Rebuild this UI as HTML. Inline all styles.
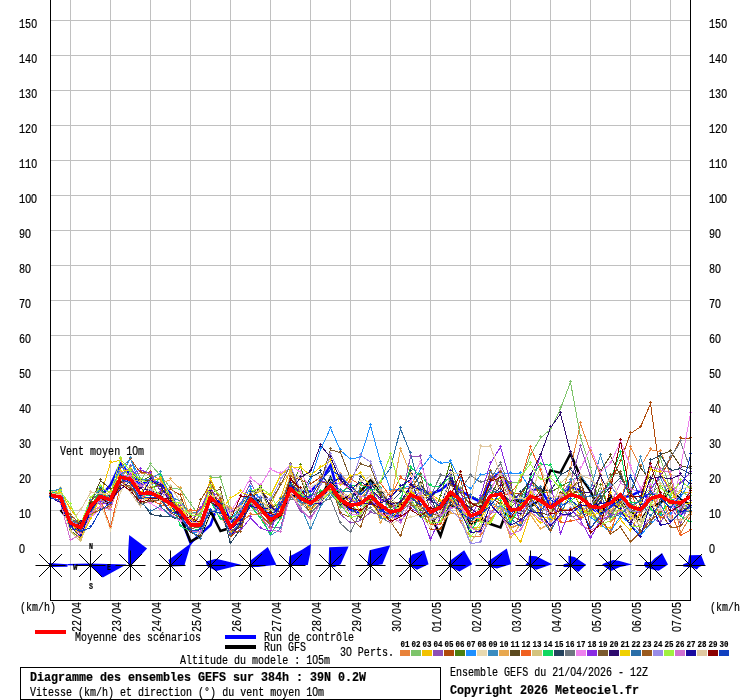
<!DOCTYPE html><html><head><meta charset="utf-8"><style>html,body{margin:0;padding:0;background:#fff;overflow:hidden}svg{display:block}text{font-family:"Liberation Mono","DejaVu Sans Mono",monospace;stroke:#000;stroke-width:0.2px}.s{font-size:12px} .b{font-size:12.5px;font-weight:bold} .t{font-size:9px;font-weight:bold} .z{font-family:"Liberation Sans",sans-serif;font-size:12.5px}</style></head><body>
<svg width="740" height="700" viewBox="0 0 740 700">
<rect width="740" height="700" fill="#fff"/>
<path d="M50,20.5H690M50,55.5H690M50,90.5H690M50,125.5H690M50,160.5H690M50,195.5H690M50,230.5H690M50,265.5H690M50,300.5H690M50,335.5H690M50,370.5H690M50,405.5H690M50,440.5H690M50,475.5H690M50,510.5H690M50,545.5H690M70.5,0V600M110.5,0V600M150.5,0V600M190.5,0V600M230.5,0V600M270.5,0V600M310.5,0V600M350.5,0V600M390.5,0V600M430.5,0V600M470.5,0V600M510.5,0V600M550.5,0V600M590.5,0V600M630.5,0V600M670.5,0V600" stroke="#c0c0c0" stroke-width="1" fill="none" shape-rendering="crispEdges"/>
<text x="19" y="553.0" class="s" textLength="6" lengthAdjust="spacingAndGlyphs"><tspan class="z">0</tspan></text>
<text x="709" y="553.0" class="s" textLength="6" lengthAdjust="spacingAndGlyphs"><tspan class="z">0</tspan></text>
<text x="19" y="518.0" class="s" textLength="12" lengthAdjust="spacingAndGlyphs">1<tspan class="z">0</tspan></text>
<text x="709" y="518.0" class="s" textLength="12" lengthAdjust="spacingAndGlyphs">1<tspan class="z">0</tspan></text>
<text x="19" y="483.0" class="s" textLength="12" lengthAdjust="spacingAndGlyphs">2<tspan class="z">0</tspan></text>
<text x="709" y="483.0" class="s" textLength="12" lengthAdjust="spacingAndGlyphs">2<tspan class="z">0</tspan></text>
<text x="19" y="448.0" class="s" textLength="12" lengthAdjust="spacingAndGlyphs">3<tspan class="z">0</tspan></text>
<text x="709" y="448.0" class="s" textLength="12" lengthAdjust="spacingAndGlyphs">3<tspan class="z">0</tspan></text>
<text x="19" y="413.0" class="s" textLength="12" lengthAdjust="spacingAndGlyphs">4<tspan class="z">0</tspan></text>
<text x="709" y="413.0" class="s" textLength="12" lengthAdjust="spacingAndGlyphs">4<tspan class="z">0</tspan></text>
<text x="19" y="378.0" class="s" textLength="12" lengthAdjust="spacingAndGlyphs">5<tspan class="z">0</tspan></text>
<text x="709" y="378.0" class="s" textLength="12" lengthAdjust="spacingAndGlyphs">5<tspan class="z">0</tspan></text>
<text x="19" y="343.0" class="s" textLength="12" lengthAdjust="spacingAndGlyphs">6<tspan class="z">0</tspan></text>
<text x="709" y="343.0" class="s" textLength="12" lengthAdjust="spacingAndGlyphs">6<tspan class="z">0</tspan></text>
<text x="19" y="308.0" class="s" textLength="12" lengthAdjust="spacingAndGlyphs">7<tspan class="z">0</tspan></text>
<text x="709" y="308.0" class="s" textLength="12" lengthAdjust="spacingAndGlyphs">7<tspan class="z">0</tspan></text>
<text x="19" y="273.0" class="s" textLength="12" lengthAdjust="spacingAndGlyphs">8<tspan class="z">0</tspan></text>
<text x="709" y="273.0" class="s" textLength="12" lengthAdjust="spacingAndGlyphs">8<tspan class="z">0</tspan></text>
<text x="19" y="238.0" class="s" textLength="12" lengthAdjust="spacingAndGlyphs">9<tspan class="z">0</tspan></text>
<text x="709" y="238.0" class="s" textLength="12" lengthAdjust="spacingAndGlyphs">9<tspan class="z">0</tspan></text>
<text x="19" y="203.0" class="s" textLength="18" lengthAdjust="spacingAndGlyphs">1<tspan class="z">0</tspan><tspan class="z">0</tspan></text>
<text x="709" y="203.0" class="s" textLength="18" lengthAdjust="spacingAndGlyphs">1<tspan class="z">0</tspan><tspan class="z">0</tspan></text>
<text x="19" y="168.0" class="s" textLength="18" lengthAdjust="spacingAndGlyphs">11<tspan class="z">0</tspan></text>
<text x="709" y="168.0" class="s" textLength="18" lengthAdjust="spacingAndGlyphs">11<tspan class="z">0</tspan></text>
<text x="19" y="133.0" class="s" textLength="18" lengthAdjust="spacingAndGlyphs">12<tspan class="z">0</tspan></text>
<text x="709" y="133.0" class="s" textLength="18" lengthAdjust="spacingAndGlyphs">12<tspan class="z">0</tspan></text>
<text x="19" y="98.0" class="s" textLength="18" lengthAdjust="spacingAndGlyphs">13<tspan class="z">0</tspan></text>
<text x="709" y="98.0" class="s" textLength="18" lengthAdjust="spacingAndGlyphs">13<tspan class="z">0</tspan></text>
<text x="19" y="63.0" class="s" textLength="18" lengthAdjust="spacingAndGlyphs">14<tspan class="z">0</tspan></text>
<text x="709" y="63.0" class="s" textLength="18" lengthAdjust="spacingAndGlyphs">14<tspan class="z">0</tspan></text>
<text x="19" y="28.0" class="s" textLength="18" lengthAdjust="spacingAndGlyphs">15<tspan class="z">0</tspan></text>
<text x="709" y="28.0" class="s" textLength="18" lengthAdjust="spacingAndGlyphs">15<tspan class="z">0</tspan></text>
<text x="60" y="455" class="s" textLength="84" lengthAdjust="spacingAndGlyphs">Vent moyen 1<tspan class="z">0</tspan>m</text>
<polyline points="50.5,495.6 60.5,495.5 70.5,524.1 80.5,530.5 90.5,508.3 100.5,496.4 110.5,485.1 120.5,463.8 130.5,475.0 140.5,484.4 150.5,480.2 160.5,483.8 170.5,492.9 180.5,517.0 190.5,542.9 200.5,534.1 210.5,525.0 220.5,497.4 230.5,521.8 240.5,515.2 250.5,499.5 260.5,505.2 270.5,517.5 280.5,505.1 290.5,484.8 300.5,492.3 310.5,491.3 320.5,481.4 330.5,465.4 340.5,501.0 350.5,509.4 360.5,513.0 370.5,500.2 380.5,507.7 390.5,516.2 400.5,515.6 410.5,485.5 420.5,489.0 430.5,493.9 440.5,490.1 450.5,482.0 460.5,490.8 470.5,496.9 480.5,501.9 490.5,480.6 500.5,471.3 510.5,492.6 520.5,502.2 530.5,490.7 540.5,488.6 550.5,505.6 560.5,496.8 570.5,486.6 580.5,490.8 590.5,507.8 600.5,513.4 610.5,507.1 620.5,497.2 630.5,496.0 640.5,490.9 650.5,501.3 660.5,495.5 670.5,501.9 680.5,514.6 690.5,505.2" stroke="#0000ff" stroke-width="2.5" fill="none"/>
<polyline points="60.5,510.0 70.5,521.9 80.5,529.4 90.5,504.4 100.5,500.4 110.5,503.9 120.5,480.1 130.5,481.4 140.5,494.3 150.5,501.9 160.5,498.6 170.5,504.1 180.5,517.0 190.5,541.5 200.5,536.2 210.5,511.1 220.5,531.0 230.5,527.8 240.5,517.5 250.5,494.7 260.5,503.1 270.5,523.2 280.5,515.1 290.5,495.9 300.5,496.4 310.5,499.5 320.5,499.5 330.5,477.9 340.5,499.7 350.5,495.9 360.5,491.4 370.5,480.3 380.5,490.5 390.5,506.1 400.5,506.0 410.5,497.0 420.5,498.8 430.5,514.9 440.5,535.9 450.5,505.2 460.5,508.7 470.5,525.4 480.5,517.4 490.5,524.0 500.5,527.5 510.5,501.3 520.5,500.7 530.5,506.5 540.5,499.5 550.5,470.4 560.5,472.9 570.5,453.6 580.5,476.8 590.5,491.1 600.5,513.5 610.5,496.3 620.5,501.3 630.5,510.2 640.5,520.8 650.5,506.8 660.5,503.2 670.5,488.9 680.5,499.6 690.5,504.8" stroke="#000" stroke-width="2.5" fill="none"/>
<g fill="none" stroke-width="1" shape-rendering="crispEdges" stroke-linejoin="miter">
<polyline points="50.5,492.8 60.5,493.3 70.5,526.5 80.5,531.4 90.5,514.5 100.5,499.0 110.5,507.7 120.5,476.5 130.5,474.6 140.5,472.9 150.5,474.7 160.5,479.7 170.5,495.2 180.5,511.5 190.5,511.4 200.5,515.2 210.5,485.7 220.5,496.9 230.5,513.3 240.5,522.7 250.5,514.5 260.5,513.9 270.5,501.5 280.5,519.3 290.5,497.2 300.5,501.6 310.5,509.3 320.5,501.1 330.5,491.7 340.5,494.9 350.5,502.1 360.5,499.6 370.5,504.1 380.5,504.6 390.5,491.3 400.5,490.0 410.5,487.2 420.5,507.1 430.5,513.1 440.5,502.9 450.5,492.9 460.5,521.9 470.5,537.1 480.5,536.0 490.5,519.6 500.5,506.6 510.5,528.6 520.5,523.4 530.5,490.8 540.5,507.5 550.5,513.1 560.5,497.5 570.5,468.0 580.5,423.9 590.5,451.9 600.5,475.0 610.5,522.2 620.5,511.4 630.5,447.0 640.5,466.6 650.5,449.8 660.5,451.6 670.5,475.0 680.5,533.3 690.5,515.9" stroke="#e8823a"/>
<polyline points="50.5,496.2 60.5,490.6 70.5,519.8 80.5,533.6 90.5,508.7 100.5,496.7 110.5,494.8 120.5,476.9 130.5,467.3 140.5,481.3 150.5,464.4 160.5,475.5 170.5,487.8 180.5,489.4 190.5,503.9 200.5,517.0 210.5,477.8 220.5,477.8 230.5,510.0 240.5,514.8 250.5,494.2 260.5,511.6 270.5,519.3 280.5,499.0 290.5,468.0 300.5,491.8 310.5,510.2 320.5,493.6 330.5,489.4 340.5,508.0 350.5,504.8 360.5,512.8 370.5,494.6 380.5,491.7 390.5,503.4 400.5,513.6 410.5,498.8 420.5,484.0 430.5,500.3 440.5,484.3 450.5,477.3 460.5,488.9 470.5,506.5 480.5,504.4 490.5,486.9 500.5,476.6 510.5,482.9 520.5,482.0 530.5,455.1 540.5,437.9 550.5,429.5 560.5,408.5 570.5,382.2 580.5,436.9 590.5,468.0 600.5,508.3 610.5,518.4 620.5,499.8 630.5,509.3 640.5,498.2 650.5,488.3 660.5,458.4 670.5,490.4 680.5,491.6 690.5,496.5" stroke="#7dc46a"/>
<polyline points="50.5,492.2 60.5,490.4 70.5,509.2 80.5,522.6 90.5,507.8 100.5,496.0 110.5,462.8 120.5,459.9 130.5,482.0 140.5,496.8 150.5,499.5 160.5,493.8 170.5,508.5 180.5,517.3 190.5,525.7 200.5,514.6 210.5,479.1 220.5,500.5 230.5,532.5 240.5,527.3 250.5,502.7 260.5,509.3 270.5,509.1 280.5,498.5 290.5,468.5 300.5,496.1 310.5,510.2 320.5,499.4 330.5,484.1 340.5,505.0 350.5,495.7 360.5,512.2 370.5,501.9 380.5,515.9 390.5,515.3 400.5,506.9 410.5,496.4 420.5,496.2 430.5,494.8 440.5,505.5 450.5,498.2 460.5,512.3 470.5,526.9 480.5,527.9 490.5,522.2 500.5,503.9 510.5,527.9 520.5,542.3 530.5,512.0 540.5,523.4 550.5,516.8 560.5,494.3 570.5,503.0 580.5,515.5 590.5,506.7 600.5,526.4 610.5,528.2 620.5,519.7 630.5,530.9 640.5,511.6 650.5,501.6 660.5,518.8 670.5,499.2 680.5,491.8 690.5,493.1" stroke="#f2c200"/>
<polyline points="50.5,494.1 60.5,496.7 70.5,528.9 80.5,532.2 90.5,507.4 100.5,498.8 110.5,503.0 120.5,475.0 130.5,466.9 140.5,485.5 150.5,493.2 160.5,492.9 170.5,497.8 180.5,506.9 190.5,524.0 200.5,523.8 210.5,492.1 220.5,496.3 230.5,512.7 240.5,504.4 250.5,482.7 260.5,500.2 270.5,527.2 280.5,528.1 290.5,491.4 300.5,511.5 310.5,517.3 320.5,503.8 330.5,482.5 340.5,514.3 350.5,523.0 360.5,520.7 370.5,512.3 380.5,515.0 390.5,511.5 400.5,502.4 410.5,456.7 420.5,456.7 430.5,503.1 440.5,516.5 450.5,500.2 460.5,507.6 470.5,508.8 480.5,499.5 490.5,477.5 500.5,482.8 510.5,497.1 520.5,495.7 530.5,491.0 540.5,489.5 550.5,516.8 560.5,495.1 570.5,482.1 580.5,446.6 590.5,476.8 600.5,511.6 610.5,512.5 620.5,503.0 630.5,520.0 640.5,532.2 650.5,516.6 660.5,522.9 670.5,505.6 680.5,523.1 690.5,501.9" stroke="#8e4fb5"/>
<polyline points="50.5,493.5 60.5,495.2 70.5,524.5 80.5,533.1 90.5,501.0 100.5,492.3 110.5,498.7 120.5,468.1 130.5,459.2 140.5,472.8 150.5,472.2 160.5,490.9 170.5,489.0 180.5,495.2 190.5,523.8 200.5,528.7 210.5,495.3 220.5,512.4 230.5,536.7 240.5,528.8 250.5,502.4 260.5,515.6 270.5,525.6 280.5,512.8 290.5,476.6 300.5,479.8 310.5,484.1 320.5,477.4 330.5,490.5 340.5,503.2 350.5,497.2 360.5,489.7 370.5,492.2 380.5,495.3 390.5,506.5 400.5,504.8 410.5,494.7 420.5,506.4 430.5,529.7 440.5,529.4 450.5,509.2 460.5,478.7 470.5,522.3 480.5,510.9 490.5,480.9 500.5,472.2 510.5,493.6 520.5,494.0 530.5,480.5 540.5,495.6 550.5,508.2 560.5,500.4 570.5,492.6 580.5,491.9 590.5,511.3 600.5,492.9 610.5,482.0 620.5,461.0 630.5,433.4 640.5,427.0 650.5,403.6 660.5,476.8 670.5,458.6 680.5,438.9 690.5,438.9" stroke="#b04a0a"/>
<polyline points="50.5,495.5 60.5,495.1 70.5,530.9 80.5,537.6 90.5,503.5 100.5,496.5 110.5,496.0 120.5,480.7 130.5,471.6 140.5,481.9 150.5,476.2 160.5,490.6 170.5,495.3 180.5,513.1 190.5,522.9 200.5,536.2 210.5,500.7 220.5,504.4 230.5,528.3 240.5,505.3 250.5,493.0 260.5,487.9 270.5,512.0 280.5,515.2 290.5,490.5 300.5,465.5 310.5,500.0 320.5,496.4 330.5,488.4 340.5,494.6 350.5,514.7 360.5,490.0 370.5,504.7 380.5,494.5 390.5,508.5 400.5,516.2 410.5,491.3 420.5,511.6 430.5,520.1 440.5,496.0 450.5,461.4 460.5,503.0 470.5,532.0 480.5,503.9 490.5,496.2 500.5,475.4 510.5,507.5 520.5,497.3 530.5,478.8 540.5,493.2 550.5,492.2 560.5,486.7 570.5,481.0 580.5,509.3 590.5,511.6 600.5,485.5 610.5,514.2 620.5,503.3 630.5,512.5 640.5,512.3 650.5,495.3 660.5,484.2 670.5,504.5 680.5,506.6 690.5,511.1" stroke="#4c7f10"/>
<polyline points="50.5,498.4 60.5,493.8 70.5,518.6 80.5,523.3 90.5,506.4 100.5,491.3 110.5,506.8 120.5,475.2 130.5,458.6 140.5,486.8 150.5,482.0 160.5,498.2 170.5,511.2 180.5,516.1 190.5,532.7 200.5,533.0 210.5,501.5 220.5,510.7 230.5,520.1 240.5,505.1 250.5,488.0 260.5,499.4 270.5,520.1 280.5,515.2 290.5,488.9 300.5,503.0 310.5,479.9 320.5,449.8 330.5,428.1 340.5,450.5 350.5,459.2 360.5,457.1 370.5,425.6 380.5,462.1 390.5,490.1 400.5,489.0 410.5,485.5 420.5,469.4 430.5,456.4 440.5,463.4 450.5,461.7 460.5,479.9 470.5,489.0 480.5,475.0 490.5,472.9 500.5,473.9 510.5,473.9 520.5,473.6 530.5,489.0 540.5,505.0 550.5,507.1 560.5,504.9 570.5,503.1 580.5,512.6 590.5,517.2 600.5,524.4 610.5,531.9 620.5,515.7 630.5,524.0 640.5,535.4 650.5,523.8 660.5,515.1 670.5,514.7 680.5,497.1 690.5,481.2" stroke="#1e90ff"/>
<polyline points="50.5,492.9 60.5,488.8 70.5,516.9 80.5,528.9 90.5,507.0 100.5,503.0 110.5,530.0 120.5,492.5 130.5,473.2 140.5,498.2 150.5,500.6 160.5,498.6 170.5,506.8 180.5,514.8 190.5,522.9 200.5,535.7 210.5,510.9 220.5,515.6 230.5,535.9 240.5,524.1 250.5,501.6 260.5,504.9 270.5,508.4 280.5,501.9 290.5,475.1 300.5,489.4 310.5,487.4 320.5,480.9 330.5,482.4 340.5,504.4 350.5,513.1 360.5,510.0 370.5,492.5 380.5,499.1 390.5,524.5 400.5,519.4 410.5,517.6 420.5,513.9 430.5,528.1 440.5,515.8 450.5,483.7 460.5,508.1 470.5,530.8 480.5,505.9 490.5,502.4 500.5,479.9 510.5,504.5 520.5,513.6 530.5,514.4 540.5,529.4 550.5,524.5 560.5,502.8 570.5,504.2 580.5,508.7 590.5,504.3 600.5,516.9 610.5,517.5 620.5,514.4 630.5,518.0 640.5,518.2 650.5,520.2 660.5,476.6 670.5,505.2 680.5,489.2 690.5,486.5" stroke="#e8d9b0"/>
<polyline points="50.5,491.1 60.5,489.3 70.5,519.7 80.5,526.1 90.5,500.9 100.5,488.1 110.5,492.2 120.5,467.9 130.5,458.8 140.5,479.2 150.5,479.2 160.5,472.9 170.5,496.8 180.5,501.2 190.5,514.3 200.5,509.9 210.5,488.4 220.5,509.8 230.5,535.9 240.5,523.6 250.5,504.9 260.5,514.2 270.5,535.6 280.5,528.8 290.5,495.9 300.5,506.1 310.5,529.2 320.5,506.5 330.5,493.7 340.5,504.6 350.5,517.0 360.5,484.8 370.5,486.9 380.5,518.0 390.5,518.2 400.5,510.8 410.5,498.1 420.5,517.6 430.5,512.1 440.5,505.9 450.5,478.1 460.5,499.4 470.5,521.7 480.5,514.4 490.5,503.0 500.5,507.7 510.5,525.2 520.5,498.5 530.5,485.5 540.5,487.7 550.5,520.5 560.5,504.4 570.5,481.0 580.5,475.2 590.5,489.0 600.5,455.1 610.5,485.5 620.5,499.5 630.5,492.5 640.5,457.5 650.5,489.0 660.5,478.3 670.5,498.6 680.5,502.2 690.5,508.6" stroke="#3a8cc0"/>
<polyline points="50.5,493.6 60.5,496.6 70.5,523.2 80.5,541.0 90.5,515.0 100.5,507.2 110.5,508.9 120.5,481.1 130.5,487.5 140.5,500.2 150.5,483.4 160.5,483.4 170.5,479.8 180.5,488.9 190.5,518.6 200.5,524.3 210.5,496.9 220.5,499.6 230.5,508.9 240.5,507.6 250.5,504.2 260.5,503.1 270.5,505.0 280.5,484.5 290.5,472.4 300.5,493.7 310.5,508.1 320.5,501.9 330.5,487.2 340.5,474.6 350.5,482.9 360.5,498.7 370.5,486.3 380.5,523.2 390.5,503.0 400.5,449.1 410.5,473.6 420.5,496.0 430.5,522.0 440.5,522.2 450.5,513.6 460.5,514.3 470.5,527.1 480.5,530.5 490.5,504.6 500.5,509.1 510.5,538.3 520.5,524.1 530.5,515.0 540.5,529.1 550.5,522.4 560.5,509.6 570.5,509.4 580.5,517.5 590.5,510.1 600.5,525.2 610.5,513.2 620.5,494.1 630.5,515.0 640.5,521.6 650.5,509.0 660.5,495.2 670.5,517.9 680.5,520.9 690.5,513.7" stroke="#e8a84f"/>
<polyline points="50.5,494.8 60.5,495.2 70.5,524.4 80.5,533.1 90.5,503.0 100.5,480.6 110.5,489.0 120.5,482.9 130.5,480.3 140.5,480.3 150.5,481.0 160.5,486.6 170.5,499.4 180.5,514.4 190.5,532.3 200.5,536.6 210.5,500.4 220.5,511.5 230.5,534.3 240.5,526.3 250.5,498.9 260.5,486.5 270.5,507.6 280.5,504.0 290.5,492.1 300.5,477.7 310.5,505.4 320.5,492.0 330.5,487.0 340.5,505.5 350.5,506.0 360.5,518.2 370.5,500.3 380.5,514.7 390.5,517.7 400.5,511.2 410.5,490.4 420.5,483.4 430.5,524.0 440.5,513.8 450.5,496.7 460.5,503.1 470.5,511.9 480.5,516.2 490.5,497.1 500.5,504.6 510.5,515.7 520.5,520.1 530.5,511.2 540.5,513.1 550.5,515.0 560.5,493.3 570.5,495.1 580.5,489.0 590.5,509.6 600.5,471.2 610.5,455.7 620.5,475.6 630.5,494.3 640.5,467.3 650.5,480.9 660.5,454.5 670.5,451.3 680.5,466.3 690.5,467.6" stroke="#5c4a1e"/>
<polyline points="50.5,495.8 60.5,493.8 70.5,522.3 80.5,533.2 90.5,505.3 100.5,499.5 110.5,527.1 120.5,485.5 130.5,477.1 140.5,495.4 150.5,499.1 160.5,505.0 170.5,505.0 180.5,510.1 190.5,510.8 200.5,509.8 210.5,492.5 220.5,501.5 230.5,530.0 240.5,518.4 250.5,504.8 260.5,518.2 270.5,528.8 280.5,509.7 290.5,495.5 300.5,499.8 310.5,501.9 320.5,499.5 330.5,486.5 340.5,499.0 350.5,478.4 360.5,485.3 370.5,485.6 380.5,483.1 390.5,496.5 400.5,477.5 410.5,483.1 420.5,498.8 430.5,524.8 440.5,524.7 450.5,501.7 460.5,503.1 470.5,521.2 480.5,521.2 490.5,514.7 500.5,496.5 510.5,493.1 520.5,481.2 530.5,447.6 540.5,470.1 550.5,504.4 560.5,522.7 570.5,521.5 580.5,518.4 590.5,514.1 600.5,520.5 610.5,532.0 620.5,502.5 630.5,491.1 640.5,516.3 650.5,488.3 660.5,518.5 670.5,511.9 680.5,535.6 690.5,530.0" stroke="#f06020"/>
<polyline points="50.5,496.5 60.5,501.4 70.5,531.0 80.5,541.5 90.5,517.0 100.5,497.2 110.5,496.0 120.5,480.6 130.5,479.8 140.5,481.5 150.5,488.5 160.5,501.1 170.5,504.7 180.5,510.6 190.5,513.0 200.5,513.1 210.5,492.2 220.5,510.3 230.5,527.5 240.5,521.0 250.5,504.7 260.5,500.4 270.5,509.4 280.5,511.9 290.5,474.3 300.5,478.2 310.5,498.7 320.5,476.6 330.5,483.7 340.5,491.6 350.5,497.3 360.5,504.8 370.5,504.1 380.5,491.3 390.5,503.1 400.5,511.3 410.5,502.7 420.5,508.9 430.5,518.7 440.5,515.7 450.5,498.8 460.5,514.6 470.5,543.0 480.5,527.0 490.5,498.1 500.5,511.9 510.5,529.6 520.5,516.3 530.5,490.5 540.5,503.1 550.5,512.5 560.5,483.7 570.5,474.0 580.5,498.4 590.5,516.5 600.5,518.3 610.5,510.9 620.5,512.0 630.5,515.3 640.5,521.9 650.5,506.3 660.5,484.8 670.5,487.2 680.5,502.2 690.5,512.2" stroke="#d4c37e"/>
<polyline points="50.5,491.9 60.5,493.1 70.5,520.4 80.5,530.0 90.5,509.4 100.5,487.5 110.5,503.2 120.5,481.5 130.5,472.9 140.5,495.4 150.5,496.0 160.5,475.0 170.5,499.5 180.5,526.3 190.5,531.1 200.5,528.9 210.5,501.1 220.5,519.1 230.5,518.8 240.5,511.1 250.5,505.5 260.5,518.5 270.5,534.2 280.5,518.5 290.5,484.4 300.5,496.6 310.5,495.9 320.5,491.8 330.5,485.5 340.5,492.9 350.5,485.9 360.5,484.5 370.5,490.1 380.5,488.7 390.5,517.1 400.5,499.8 410.5,467.3 420.5,475.7 430.5,485.9 440.5,486.6 450.5,476.8 460.5,502.0 470.5,531.7 480.5,515.6 490.5,491.5 500.5,501.5 510.5,522.6 520.5,506.6 530.5,478.3 540.5,464.5 550.5,465.2 560.5,485.7 570.5,501.0 580.5,493.5 590.5,508.4 600.5,502.8 610.5,479.7 620.5,452.7 630.5,503.1 640.5,502.0 650.5,509.5 660.5,514.9 670.5,496.5 680.5,516.2 690.5,522.3" stroke="#10d860"/>
<polyline points="50.5,494.4 60.5,497.3 70.5,525.7 80.5,532.1 90.5,511.6 100.5,489.1 110.5,496.9 120.5,476.1 130.5,475.8 140.5,499.5 150.5,514.2 160.5,516.3 170.5,516.3 180.5,520.5 190.5,517.1 200.5,524.3 210.5,495.6 220.5,505.7 230.5,543.4 240.5,528.9 250.5,500.5 260.5,499.0 270.5,524.3 280.5,505.3 290.5,490.0 300.5,496.3 310.5,477.4 320.5,471.9 330.5,488.8 340.5,505.3 350.5,502.3 360.5,477.1 370.5,483.9 380.5,494.0 390.5,502.6 400.5,492.8 410.5,471.6 420.5,485.0 430.5,496.2 440.5,522.1 450.5,503.9 460.5,510.6 470.5,522.0 480.5,510.4 490.5,486.5 500.5,492.7 510.5,501.3 520.5,492.9 530.5,480.0 540.5,489.3 550.5,491.1 560.5,474.9 570.5,469.3 580.5,481.5 590.5,509.4 600.5,497.8 610.5,487.0 620.5,477.8 630.5,492.3 640.5,503.9 650.5,460.3 660.5,455.0 670.5,470.7 680.5,468.6 690.5,474.1" stroke="#25435e"/>
<polyline points="50.5,495.3 60.5,495.7 70.5,520.0 80.5,525.0 90.5,516.0 100.5,492.9 110.5,498.4 120.5,481.7 130.5,488.5 140.5,506.1 150.5,499.7 160.5,500.9 170.5,504.3 180.5,501.6 190.5,528.8 200.5,514.4 210.5,493.7 220.5,508.6 230.5,530.2 240.5,512.0 250.5,502.9 260.5,500.7 270.5,525.4 280.5,514.6 290.5,498.8 300.5,502.0 310.5,512.9 320.5,503.1 330.5,498.5 340.5,523.4 350.5,532.6 360.5,511.0 370.5,508.3 380.5,517.2 390.5,522.8 400.5,512.1 410.5,503.3 420.5,515.5 430.5,496.0 440.5,475.4 450.5,476.8 460.5,489.0 470.5,475.4 480.5,482.4 490.5,478.9 500.5,463.1 510.5,489.0 520.5,512.4 530.5,508.3 540.5,516.7 550.5,490.9 560.5,507.2 570.5,516.9 580.5,514.8 590.5,510.2 600.5,523.3 610.5,516.1 620.5,498.8 630.5,507.2 640.5,512.5 650.5,501.5 660.5,472.2 670.5,457.6 680.5,441.9 690.5,469.0" stroke="#6e7780"/>
<polyline points="50.5,496.3 60.5,498.3 70.5,524.6 80.5,534.3 90.5,517.5 100.5,508.9 110.5,506.7 120.5,481.1 130.5,474.6 140.5,501.2 150.5,503.2 160.5,509.6 170.5,513.7 180.5,521.5 190.5,520.6 200.5,523.6 210.5,493.5 220.5,512.4 230.5,511.8 240.5,496.0 250.5,478.1 260.5,485.5 270.5,469.1 280.5,473.9 290.5,464.9 300.5,472.6 310.5,489.0 320.5,502.1 330.5,486.1 340.5,502.3 350.5,513.9 360.5,515.4 370.5,498.6 380.5,512.0 390.5,522.1 400.5,515.3 410.5,482.0 420.5,462.1 430.5,492.5 440.5,508.4 450.5,494.2 460.5,507.2 470.5,516.6 480.5,518.2 490.5,491.0 500.5,469.5 510.5,500.8 520.5,504.6 530.5,489.6 540.5,497.7 550.5,515.8 560.5,496.6 570.5,489.1 580.5,468.8 590.5,448.1 600.5,472.1 610.5,463.7 620.5,441.0 630.5,466.3 640.5,488.7 650.5,485.6 660.5,508.0 670.5,522.6 680.5,467.6 690.5,413.0" stroke="#ee82ee"/>
<polyline points="50.5,494.2 60.5,497.3 70.5,521.4 80.5,529.1 90.5,505.9 100.5,502.7 110.5,504.9 120.5,485.9 130.5,475.2 140.5,469.7 150.5,474.0 160.5,490.8 170.5,497.5 180.5,513.4 190.5,520.9 200.5,509.0 210.5,486.7 220.5,507.8 230.5,534.2 240.5,530.4 250.5,517.9 260.5,528.3 270.5,531.3 280.5,504.3 290.5,489.9 300.5,496.9 310.5,498.2 320.5,480.3 330.5,484.4 340.5,492.1 350.5,499.7 360.5,505.2 370.5,487.4 380.5,500.5 390.5,499.5 400.5,521.5 410.5,508.2 420.5,513.0 430.5,539.4 440.5,516.9 450.5,497.7 460.5,491.6 470.5,519.8 480.5,496.0 490.5,463.1 500.5,447.0 510.5,482.0 520.5,526.7 530.5,485.5 540.5,455.1 550.5,482.0 560.5,533.7 570.5,508.2 580.5,520.2 590.5,538.1 600.5,519.9 610.5,515.7 620.5,513.2 630.5,517.9 640.5,510.1 650.5,489.7 660.5,474.7 670.5,491.5 680.5,483.1 690.5,472.3" stroke="#8a2be2"/>
<polyline points="50.5,496.2 60.5,495.8 70.5,518.8 80.5,523.8 90.5,509.5 100.5,490.9 110.5,502.3 120.5,486.0 130.5,485.0 140.5,503.1 150.5,501.5 160.5,499.7 170.5,513.0 180.5,517.7 190.5,528.9 200.5,526.6 210.5,493.9 220.5,488.6 230.5,530.4 240.5,526.7 250.5,496.7 260.5,490.2 270.5,501.5 280.5,485.4 290.5,464.5 300.5,496.3 310.5,513.9 320.5,482.0 330.5,449.8 340.5,452.6 350.5,478.9 360.5,464.1 370.5,466.9 380.5,492.5 390.5,502.5 400.5,503.0 410.5,490.0 420.5,474.6 430.5,512.6 440.5,517.2 450.5,484.0 460.5,493.3 470.5,504.1 480.5,502.9 490.5,499.3 500.5,473.5 510.5,484.4 520.5,514.2 530.5,500.8 540.5,491.8 550.5,514.4 560.5,500.4 570.5,488.0 580.5,481.9 590.5,509.5 600.5,502.2 610.5,475.6 620.5,472.0 630.5,499.3 640.5,531.2 650.5,524.1 660.5,498.3 670.5,484.2 680.5,511.8 690.5,489.8" stroke="#7b5a2e"/>
<polyline points="50.5,495.0 60.5,495.8 70.5,526.8 80.5,523.0 90.5,505.2 100.5,497.6 110.5,499.7 120.5,489.6 130.5,480.6 140.5,488.7 150.5,490.3 160.5,494.0 170.5,505.8 180.5,517.9 190.5,532.0 200.5,529.5 210.5,491.6 220.5,505.0 230.5,535.8 240.5,524.1 250.5,500.6 260.5,488.5 270.5,506.2 280.5,515.4 290.5,490.8 300.5,477.4 310.5,471.5 320.5,445.2 330.5,457.1 340.5,480.2 350.5,490.1 360.5,481.5 370.5,488.1 380.5,498.7 390.5,504.4 400.5,502.6 410.5,485.5 420.5,490.3 430.5,500.3 440.5,506.5 450.5,479.4 460.5,500.7 470.5,508.4 480.5,515.4 490.5,498.8 500.5,486.9 510.5,508.0 520.5,514.4 530.5,475.0 540.5,455.1 550.5,427.8 560.5,413.8 570.5,452.2 580.5,492.5 590.5,492.4 600.5,476.3 610.5,496.1 620.5,510.2 630.5,524.0 640.5,505.9 650.5,478.5 660.5,477.1 670.5,479.1 680.5,474.7 690.5,484.6" stroke="#2e0a6e"/>
<polyline points="50.5,496.0 60.5,493.2 70.5,521.8 80.5,537.6 90.5,519.4 100.5,496.0 110.5,492.2 120.5,471.4 130.5,469.8 140.5,493.5 150.5,480.8 160.5,478.4 170.5,496.6 180.5,508.9 190.5,519.4 200.5,523.0 210.5,489.8 220.5,511.2 230.5,498.1 240.5,491.8 250.5,496.0 260.5,491.4 270.5,495.6 280.5,475.4 290.5,466.9 300.5,467.3 310.5,475.0 320.5,467.3 330.5,460.6 340.5,485.5 350.5,476.1 360.5,473.2 370.5,485.9 380.5,514.4 390.5,521.0 400.5,507.1 410.5,491.1 420.5,501.0 430.5,493.4 440.5,501.1 450.5,492.5 460.5,510.1 470.5,516.7 480.5,519.4 490.5,499.6 500.5,498.8 510.5,520.0 520.5,504.5 530.5,493.8 540.5,517.4 550.5,517.8 560.5,519.9 570.5,486.2 580.5,505.9 590.5,515.8 600.5,512.5 610.5,493.7 620.5,510.5 630.5,519.4 640.5,503.9 650.5,469.3 660.5,472.1 670.5,490.7 680.5,503.5 690.5,503.3" stroke="#f0d000"/>
<polyline points="50.5,492.5 60.5,499.2 70.5,518.4 80.5,530.0 90.5,512.4 100.5,495.4 110.5,501.1 120.5,473.5 130.5,482.3 140.5,502.0 150.5,511.2 160.5,506.2 170.5,516.2 180.5,518.6 190.5,530.7 200.5,539.2 210.5,500.4 220.5,508.8 230.5,535.2 240.5,521.1 250.5,494.2 260.5,509.5 270.5,518.9 280.5,499.7 290.5,485.8 300.5,501.2 310.5,506.1 320.5,500.2 330.5,479.7 340.5,490.7 350.5,492.1 360.5,506.4 370.5,484.8 380.5,482.0 390.5,468.0 400.5,428.8 410.5,453.3 420.5,491.1 430.5,495.5 440.5,509.9 450.5,497.9 460.5,500.4 470.5,495.5 480.5,500.0 490.5,490.0 500.5,493.3 510.5,518.5 520.5,526.5 530.5,506.1 540.5,517.2 550.5,531.8 560.5,512.9 570.5,496.0 580.5,496.0 590.5,496.6 600.5,494.3 610.5,517.7 620.5,514.5 630.5,505.6 640.5,501.3 650.5,516.0 660.5,504.5 670.5,522.1 680.5,512.2 690.5,511.7" stroke="#2a6ea8"/>
<polyline points="50.5,496.7 60.5,500.6 70.5,515.5 80.5,523.4 90.5,513.8 100.5,510.2 110.5,505.6 120.5,481.3 130.5,489.1 140.5,494.8 150.5,488.4 160.5,484.7 170.5,497.8 180.5,514.9 190.5,531.0 200.5,500.6 210.5,483.1 220.5,499.5 230.5,530.5 240.5,532.1 250.5,496.0 260.5,514.4 270.5,524.7 280.5,506.0 290.5,477.5 300.5,499.1 310.5,503.7 320.5,482.5 330.5,483.4 340.5,513.3 350.5,517.3 360.5,527.5 370.5,497.6 380.5,509.1 390.5,521.7 400.5,536.1 410.5,505.0 420.5,506.3 430.5,517.3 440.5,504.2 450.5,498.0 460.5,506.5 470.5,507.8 480.5,501.8 490.5,471.1 500.5,489.6 510.5,515.2 520.5,520.6 530.5,502.0 540.5,511.0 550.5,531.1 560.5,501.9 570.5,489.0 580.5,478.4 590.5,528.3 600.5,516.5 610.5,534.1 620.5,527.2 630.5,542.1 640.5,532.2 650.5,520.3 660.5,512.3 670.5,527.4 680.5,526.8 690.5,512.5" stroke="#9a5a1e"/>
<polyline points="50.5,494.5 60.5,497.4 70.5,521.9 80.5,525.3 90.5,506.6 100.5,500.8 110.5,503.7 120.5,477.5 130.5,482.0 140.5,497.9 150.5,490.4 160.5,496.2 170.5,502.3 180.5,513.1 190.5,525.1 200.5,527.0 210.5,499.6 220.5,511.1 230.5,521.8 240.5,510.4 250.5,497.4 260.5,497.0 270.5,499.8 280.5,479.8 290.5,465.2 300.5,490.9 310.5,502.6 320.5,485.5 330.5,454.0 340.5,475.0 350.5,485.5 360.5,455.4 370.5,462.1 380.5,489.0 390.5,518.1 400.5,516.9 410.5,490.1 420.5,494.5 430.5,520.1 440.5,516.9 450.5,509.3 460.5,519.4 470.5,543.6 480.5,542.4 490.5,513.2 500.5,506.0 510.5,515.7 520.5,512.2 530.5,504.0 540.5,494.8 550.5,524.6 560.5,514.5 570.5,508.0 580.5,510.8 590.5,505.6 600.5,492.1 610.5,486.1 620.5,496.5 630.5,511.8 640.5,511.5 650.5,493.4 660.5,494.4 670.5,502.7 680.5,508.4 690.5,491.4" stroke="#9a8ce8"/>
<polyline points="50.5,494.2 60.5,491.5 70.5,504.9 80.5,524.7 90.5,498.3 100.5,486.7 110.5,493.0 120.5,458.9 130.5,471.0 140.5,479.6 150.5,483.1 160.5,497.1 170.5,500.6 180.5,503.6 190.5,515.8 200.5,515.9 210.5,487.0 220.5,495.2 230.5,526.5 240.5,518.5 250.5,491.4 260.5,487.9 270.5,494.7 280.5,512.4 290.5,489.0 300.5,493.5 310.5,500.9 320.5,501.7 330.5,492.5 340.5,503.2 350.5,517.6 360.5,514.9 370.5,496.0 380.5,482.0 390.5,454.7 400.5,488.3 410.5,497.6 420.5,515.5 430.5,523.3 440.5,522.2 450.5,498.4 460.5,505.2 470.5,537.4 480.5,522.6 490.5,523.1 500.5,505.1 510.5,505.2 520.5,476.3 530.5,463.9 540.5,479.8 550.5,477.5 560.5,488.3 570.5,499.9 580.5,511.9 590.5,513.3 600.5,524.8 610.5,520.7 620.5,507.4 630.5,526.1 640.5,527.1 650.5,505.1 660.5,487.6 670.5,495.2 680.5,481.0 690.5,488.4" stroke="#a0f040"/>
<polyline points="50.5,495.3 60.5,503.0 70.5,540.1 80.5,534.5 90.5,513.5 100.5,505.8 110.5,510.2 120.5,473.9 130.5,476.9 140.5,486.8 150.5,480.8 160.5,485.0 170.5,505.6 180.5,512.5 190.5,530.7 200.5,532.3 210.5,501.2 220.5,512.9 230.5,530.6 240.5,513.4 250.5,500.0 260.5,515.5 270.5,529.5 280.5,532.1 290.5,493.7 300.5,508.8 310.5,519.2 320.5,503.1 330.5,486.0 340.5,483.1 350.5,488.7 360.5,497.4 370.5,494.8 380.5,513.8 390.5,515.3 400.5,523.1 410.5,501.6 420.5,493.7 430.5,510.9 440.5,515.7 450.5,508.7 460.5,505.3 470.5,527.3 480.5,533.1 490.5,512.5 500.5,512.7 510.5,534.6 520.5,530.2 530.5,511.8 540.5,519.7 550.5,526.1 560.5,516.0 570.5,514.2 580.5,524.4 590.5,530.4 600.5,525.2 610.5,504.1 620.5,482.8 630.5,489.5 640.5,491.0 650.5,466.7 660.5,469.9 670.5,472.7 680.5,514.4 690.5,487.6" stroke="#d070d0"/>
<polyline points="50.5,497.1 60.5,502.8 70.5,526.7 80.5,536.6 90.5,511.1 100.5,497.4 110.5,497.3 120.5,477.7 130.5,481.2 140.5,496.0 150.5,479.9 160.5,485.5 170.5,502.8 180.5,515.6 190.5,522.9 200.5,520.7 210.5,501.9 220.5,510.1 230.5,529.2 240.5,522.0 250.5,506.2 260.5,508.7 270.5,508.0 280.5,512.1 290.5,483.4 300.5,500.6 310.5,501.9 320.5,504.5 330.5,483.8 340.5,477.4 350.5,488.8 360.5,502.4 370.5,504.5 380.5,503.4 390.5,497.7 400.5,486.3 410.5,479.8 420.5,505.3 430.5,497.4 440.5,486.2 450.5,471.5 460.5,511.3 470.5,532.9 480.5,531.1 490.5,504.7 500.5,515.3 510.5,525.2 520.5,520.2 530.5,511.6 540.5,513.2 550.5,526.0 560.5,514.3 570.5,514.1 580.5,505.7 590.5,505.8 600.5,503.6 610.5,501.8 620.5,510.0 630.5,525.5 640.5,537.1 650.5,502.6 660.5,525.4 670.5,522.8 680.5,512.4 690.5,506.2" stroke="#1a0aa0"/>
<polyline points="50.5,492.8 60.5,495.5 70.5,522.5 80.5,510.1 90.5,492.8 100.5,493.2 110.5,494.4 120.5,481.0 130.5,492.7 140.5,506.8 150.5,485.9 160.5,500.4 170.5,486.4 180.5,502.1 190.5,523.6 200.5,520.5 210.5,496.3 220.5,496.2 230.5,514.2 240.5,507.2 250.5,493.5 260.5,490.4 270.5,513.8 280.5,511.9 290.5,494.4 300.5,505.7 310.5,503.9 320.5,501.2 330.5,488.9 340.5,494.7 350.5,496.4 360.5,482.0 370.5,476.3 380.5,490.5 390.5,494.3 400.5,514.1 410.5,490.5 420.5,485.0 430.5,519.6 440.5,512.0 450.5,473.5 460.5,473.9 470.5,503.0 480.5,446.6 490.5,446.3 500.5,475.0 510.5,497.8 520.5,498.8 530.5,497.7 540.5,466.5 550.5,498.1 560.5,495.4 570.5,497.9 580.5,475.4 590.5,479.0 600.5,488.6 610.5,479.1 620.5,499.5 630.5,516.2 640.5,526.1 650.5,502.7 660.5,510.9 670.5,517.9 680.5,521.0 690.5,514.8" stroke="#e0c8a0"/>
<polyline points="50.5,494.9 60.5,498.0 70.5,524.0 80.5,524.8 90.5,504.2 100.5,497.9 110.5,503.9 120.5,483.7 130.5,490.8 140.5,502.5 150.5,499.0 160.5,497.9 170.5,499.3 180.5,518.5 190.5,517.7 200.5,522.5 210.5,502.4 220.5,507.0 230.5,519.3 240.5,496.8 250.5,495.7 260.5,509.8 270.5,513.6 280.5,516.6 290.5,479.2 300.5,488.7 310.5,503.3 320.5,495.7 330.5,485.6 340.5,502.7 350.5,508.2 360.5,510.7 370.5,503.0 380.5,508.7 390.5,522.0 400.5,516.9 410.5,509.6 420.5,516.1 430.5,508.7 440.5,509.6 450.5,496.0 460.5,472.9 470.5,503.0 480.5,507.9 490.5,480.9 500.5,478.1 510.5,518.0 520.5,503.0 530.5,497.4 540.5,495.8 550.5,514.7 560.5,510.6 570.5,510.9 580.5,503.9 590.5,532.9 600.5,524.4 610.5,489.0 620.5,440.7 630.5,496.0 640.5,497.2 650.5,464.6 660.5,493.5 670.5,511.3 680.5,505.5 690.5,491.8" stroke="#8b0000"/>
<polyline points="50.5,497.8 60.5,500.9 70.5,527.5 80.5,531.4 90.5,527.9 100.5,510.0 110.5,503.0 120.5,479.3 130.5,483.0 140.5,498.7 150.5,496.9 160.5,498.5 170.5,511.4 180.5,515.5 190.5,530.7 200.5,529.8 210.5,510.8 220.5,513.3 230.5,528.9 240.5,512.1 250.5,492.8 260.5,505.3 270.5,521.7 280.5,505.5 290.5,487.9 300.5,497.3 310.5,496.5 320.5,481.4 330.5,469.7 340.5,476.5 350.5,486.3 360.5,494.9 370.5,485.1 380.5,511.3 390.5,514.6 400.5,509.2 410.5,497.7 420.5,505.4 430.5,516.0 440.5,504.5 450.5,493.6 460.5,512.4 470.5,519.4 480.5,514.4 490.5,505.7 500.5,492.5 510.5,514.9 520.5,502.9 530.5,497.9 540.5,510.6 550.5,499.4 560.5,507.1 570.5,499.7 580.5,508.2 590.5,528.4 600.5,514.8 610.5,507.1 620.5,500.0 630.5,476.3 640.5,498.1 650.5,493.0 660.5,498.0 670.5,508.1 680.5,495.3 690.5,455.0" stroke="#1040c0"/>
</g>
<path d="M49,491h3v1h-3zM50,490h1v3h-1zM59,492h3v1h-3zM60,491h1v3h-1zM69,525h3v1h-3zM70,524h1v3h-1zM79,530h3v1h-3zM80,529h1v3h-1zM89,513h3v1h-3zM90,512h1v3h-1zM99,497h3v1h-3zM100,496h1v3h-1zM109,506h3v1h-3zM110,505h1v3h-1zM119,475h3v1h-3zM120,474h1v3h-1zM129,473h3v1h-3zM130,472h1v3h-1zM139,471h3v1h-3zM140,470h1v3h-1zM149,473h3v1h-3zM150,472h1v3h-1zM159,478h3v1h-3zM160,477h1v3h-1zM169,494h3v1h-3zM170,493h1v3h-1zM179,510h3v1h-3zM180,509h1v3h-1zM189,510h3v1h-3zM190,509h1v3h-1zM199,514h3v1h-3zM200,513h1v3h-1zM209,484h3v1h-3zM210,483h1v3h-1zM219,495h3v1h-3zM220,494h1v3h-1zM229,512h3v1h-3zM230,511h1v3h-1zM239,521h3v1h-3zM240,520h1v3h-1zM249,513h3v1h-3zM250,512h1v3h-1zM259,512h3v1h-3zM260,511h1v3h-1zM269,500h3v1h-3zM270,499h1v3h-1zM279,518h3v1h-3zM280,517h1v3h-1zM289,496h3v1h-3zM290,495h1v3h-1zM299,500h3v1h-3zM300,499h1v3h-1zM309,508h3v1h-3zM310,507h1v3h-1zM319,500h3v1h-3zM320,499h1v3h-1zM329,490h3v1h-3zM330,489h1v3h-1zM339,493h3v1h-3zM340,492h1v3h-1zM349,501h3v1h-3zM350,500h1v3h-1zM359,498h3v1h-3zM360,497h1v3h-1zM369,503h3v1h-3zM370,502h1v3h-1zM379,503h3v1h-3zM380,502h1v3h-1zM389,490h3v1h-3zM390,489h1v3h-1zM399,489h3v1h-3zM400,488h1v3h-1zM409,486h3v1h-3zM410,485h1v3h-1zM419,506h3v1h-3zM420,505h1v3h-1zM429,512h3v1h-3zM430,511h1v3h-1zM439,501h3v1h-3zM440,500h1v3h-1zM449,491h3v1h-3zM450,490h1v3h-1zM459,520h3v1h-3zM460,519h1v3h-1zM469,536h3v1h-3zM470,535h1v3h-1zM479,534h3v1h-3zM480,533h1v3h-1zM489,518h3v1h-3zM490,517h1v3h-1zM499,505h3v1h-3zM500,504h1v3h-1zM509,527h3v1h-3zM510,526h1v3h-1zM519,522h3v1h-3zM520,521h1v3h-1zM529,489h3v1h-3zM530,488h1v3h-1zM539,506h3v1h-3zM540,505h1v3h-1zM549,512h3v1h-3zM550,511h1v3h-1zM559,496h3v1h-3zM560,495h1v3h-1zM569,467h3v1h-3zM570,466h1v3h-1zM579,422h3v1h-3zM580,421h1v3h-1zM589,450h3v1h-3zM590,449h1v3h-1zM599,474h3v1h-3zM600,473h1v3h-1zM609,521h3v1h-3zM610,520h1v3h-1zM619,510h3v1h-3zM620,509h1v3h-1zM629,446h3v1h-3zM630,445h1v3h-1zM639,465h3v1h-3zM640,464h1v3h-1zM649,448h3v1h-3zM650,447h1v3h-1zM659,450h3v1h-3zM660,449h1v3h-1zM669,474h3v1h-3zM670,473h1v3h-1zM679,532h3v1h-3zM680,531h1v3h-1zM689,514h3v1h-3zM690,513h1v3h-1z" fill="#e8823a" shape-rendering="crispEdges"/><path d="M49,495h3v1h-3zM50,494h1v3h-1zM59,489h3v1h-3zM60,488h1v3h-1zM69,518h3v1h-3zM70,517h1v3h-1zM79,532h3v1h-3zM80,531h1v3h-1zM89,507h3v1h-3zM90,506h1v3h-1zM99,495h3v1h-3zM100,494h1v3h-1zM109,493h3v1h-3zM110,492h1v3h-1zM119,475h3v1h-3zM120,474h1v3h-1zM129,466h3v1h-3zM130,465h1v3h-1zM139,480h3v1h-3zM140,479h1v3h-1zM149,463h3v1h-3zM150,462h1v3h-1zM159,474h3v1h-3zM160,473h1v3h-1zM169,486h3v1h-3zM170,485h1v3h-1zM179,488h3v1h-3zM180,487h1v3h-1zM189,502h3v1h-3zM190,501h1v3h-1zM199,516h3v1h-3zM200,515h1v3h-1zM209,476h3v1h-3zM210,475h1v3h-1zM219,476h3v1h-3zM220,475h1v3h-1zM229,509h3v1h-3zM230,508h1v3h-1zM239,513h3v1h-3zM240,512h1v3h-1zM249,493h3v1h-3zM250,492h1v3h-1zM259,510h3v1h-3zM260,509h1v3h-1zM269,518h3v1h-3zM270,517h1v3h-1zM279,497h3v1h-3zM280,496h1v3h-1zM289,466h3v1h-3zM290,465h1v3h-1zM299,490h3v1h-3zM300,489h1v3h-1zM309,509h3v1h-3zM310,508h1v3h-1zM319,492h3v1h-3zM320,491h1v3h-1zM329,488h3v1h-3zM330,487h1v3h-1zM339,507h3v1h-3zM340,506h1v3h-1zM349,503h3v1h-3zM350,502h1v3h-1zM359,511h3v1h-3zM360,510h1v3h-1zM369,493h3v1h-3zM370,492h1v3h-1zM379,490h3v1h-3zM380,489h1v3h-1zM389,502h3v1h-3zM390,501h1v3h-1zM399,512h3v1h-3zM400,511h1v3h-1zM409,497h3v1h-3zM410,496h1v3h-1zM419,483h3v1h-3zM420,482h1v3h-1zM429,499h3v1h-3zM430,498h1v3h-1zM439,483h3v1h-3zM440,482h1v3h-1zM449,476h3v1h-3zM450,475h1v3h-1zM459,487h3v1h-3zM460,486h1v3h-1zM469,505h3v1h-3zM470,504h1v3h-1zM479,503h3v1h-3zM480,502h1v3h-1zM489,485h3v1h-3zM490,484h1v3h-1zM499,475h3v1h-3zM500,474h1v3h-1zM509,481h3v1h-3zM510,480h1v3h-1zM519,481h3v1h-3zM520,480h1v3h-1zM529,454h3v1h-3zM530,453h1v3h-1zM539,436h3v1h-3zM540,435h1v3h-1zM549,428h3v1h-3zM550,427h1v3h-1zM559,407h3v1h-3zM560,406h1v3h-1zM569,381h3v1h-3zM570,380h1v3h-1zM579,435h3v1h-3zM580,434h1v3h-1zM589,467h3v1h-3zM590,466h1v3h-1zM599,507h3v1h-3zM600,506h1v3h-1zM609,517h3v1h-3zM610,516h1v3h-1zM619,498h3v1h-3zM620,497h1v3h-1zM629,508h3v1h-3zM630,507h1v3h-1zM639,497h3v1h-3zM640,496h1v3h-1zM649,487h3v1h-3zM650,486h1v3h-1zM659,457h3v1h-3zM660,456h1v3h-1zM669,489h3v1h-3zM670,488h1v3h-1zM679,490h3v1h-3zM680,489h1v3h-1zM689,495h3v1h-3zM690,494h1v3h-1z" fill="#7dc46a" shape-rendering="crispEdges"/><path d="M49,491h3v1h-3zM50,490h1v3h-1zM59,489h3v1h-3zM60,488h1v3h-1zM69,508h3v1h-3zM70,507h1v3h-1zM79,521h3v1h-3zM80,520h1v3h-1zM89,506h3v1h-3zM90,505h1v3h-1zM99,495h3v1h-3zM100,494h1v3h-1zM109,461h3v1h-3zM110,460h1v3h-1zM119,458h3v1h-3zM120,457h1v3h-1zM129,481h3v1h-3zM130,480h1v3h-1zM139,495h3v1h-3zM140,494h1v3h-1zM149,498h3v1h-3zM150,497h1v3h-1zM159,492h3v1h-3zM160,491h1v3h-1zM169,507h3v1h-3zM170,506h1v3h-1zM179,516h3v1h-3zM180,515h1v3h-1zM189,524h3v1h-3zM190,523h1v3h-1zM199,513h3v1h-3zM200,512h1v3h-1zM209,478h3v1h-3zM210,477h1v3h-1zM219,499h3v1h-3zM220,498h1v3h-1zM229,531h3v1h-3zM230,530h1v3h-1zM239,526h3v1h-3zM240,525h1v3h-1zM249,501h3v1h-3zM250,500h1v3h-1zM259,508h3v1h-3zM260,507h1v3h-1zM269,508h3v1h-3zM270,507h1v3h-1zM279,497h3v1h-3zM280,496h1v3h-1zM289,467h3v1h-3zM290,466h1v3h-1zM299,495h3v1h-3zM300,494h1v3h-1zM309,509h3v1h-3zM310,508h1v3h-1zM319,498h3v1h-3zM320,497h1v3h-1zM329,483h3v1h-3zM330,482h1v3h-1zM339,504h3v1h-3zM340,503h1v3h-1zM349,494h3v1h-3zM350,493h1v3h-1zM359,511h3v1h-3zM360,510h1v3h-1zM369,500h3v1h-3zM370,499h1v3h-1zM379,514h3v1h-3zM380,513h1v3h-1zM389,514h3v1h-3zM390,513h1v3h-1zM399,505h3v1h-3zM400,504h1v3h-1zM409,495h3v1h-3zM410,494h1v3h-1zM419,495h3v1h-3zM420,494h1v3h-1zM429,493h3v1h-3zM430,492h1v3h-1zM439,504h3v1h-3zM440,503h1v3h-1zM449,497h3v1h-3zM450,496h1v3h-1zM459,511h3v1h-3zM460,510h1v3h-1zM469,525h3v1h-3zM470,524h1v3h-1zM479,526h3v1h-3zM480,525h1v3h-1zM489,521h3v1h-3zM490,520h1v3h-1zM499,502h3v1h-3zM500,501h1v3h-1zM509,526h3v1h-3zM510,525h1v3h-1zM519,541h3v1h-3zM520,540h1v3h-1zM529,510h3v1h-3zM530,509h1v3h-1zM539,522h3v1h-3zM540,521h1v3h-1zM549,515h3v1h-3zM550,514h1v3h-1zM559,493h3v1h-3zM560,492h1v3h-1zM569,502h3v1h-3zM570,501h1v3h-1zM579,514h3v1h-3zM580,513h1v3h-1zM589,505h3v1h-3zM590,504h1v3h-1zM599,525h3v1h-3zM600,524h1v3h-1zM609,527h3v1h-3zM610,526h1v3h-1zM619,518h3v1h-3zM620,517h1v3h-1zM629,529h3v1h-3zM630,528h1v3h-1zM639,510h3v1h-3zM640,509h1v3h-1zM649,500h3v1h-3zM650,499h1v3h-1zM659,517h3v1h-3zM660,516h1v3h-1zM669,498h3v1h-3zM670,497h1v3h-1zM679,490h3v1h-3zM680,489h1v3h-1zM689,492h3v1h-3zM690,491h1v3h-1z" fill="#f2c200" shape-rendering="crispEdges"/><path d="M49,493h3v1h-3zM50,492h1v3h-1zM59,495h3v1h-3zM60,494h1v3h-1zM69,527h3v1h-3zM70,526h1v3h-1zM79,531h3v1h-3zM80,530h1v3h-1zM89,506h3v1h-3zM90,505h1v3h-1zM99,497h3v1h-3zM100,496h1v3h-1zM109,502h3v1h-3zM110,501h1v3h-1zM119,474h3v1h-3zM120,473h1v3h-1zM129,465h3v1h-3zM130,464h1v3h-1zM139,484h3v1h-3zM140,483h1v3h-1zM149,492h3v1h-3zM150,491h1v3h-1zM159,491h3v1h-3zM160,490h1v3h-1zM169,496h3v1h-3zM170,495h1v3h-1zM179,505h3v1h-3zM180,504h1v3h-1zM189,523h3v1h-3zM190,522h1v3h-1zM199,522h3v1h-3zM200,521h1v3h-1zM209,491h3v1h-3zM210,490h1v3h-1zM219,495h3v1h-3zM220,494h1v3h-1zM229,511h3v1h-3zM230,510h1v3h-1zM239,503h3v1h-3zM240,502h1v3h-1zM249,481h3v1h-3zM250,480h1v3h-1zM259,499h3v1h-3zM260,498h1v3h-1zM269,526h3v1h-3zM270,525h1v3h-1zM279,527h3v1h-3zM280,526h1v3h-1zM289,490h3v1h-3zM290,489h1v3h-1zM299,510h3v1h-3zM300,509h1v3h-1zM309,516h3v1h-3zM310,515h1v3h-1zM319,502h3v1h-3zM320,501h1v3h-1zM329,481h3v1h-3zM330,480h1v3h-1zM339,513h3v1h-3zM340,512h1v3h-1zM349,522h3v1h-3zM350,521h1v3h-1zM359,519h3v1h-3zM360,518h1v3h-1zM369,511h3v1h-3zM370,510h1v3h-1zM379,514h3v1h-3zM380,513h1v3h-1zM389,510h3v1h-3zM390,509h1v3h-1zM399,501h3v1h-3zM400,500h1v3h-1zM409,455h3v1h-3zM410,454h1v3h-1zM419,455h3v1h-3zM420,454h1v3h-1zM429,502h3v1h-3zM430,501h1v3h-1zM439,515h3v1h-3zM440,514h1v3h-1zM449,499h3v1h-3zM450,498h1v3h-1zM459,506h3v1h-3zM460,505h1v3h-1zM469,507h3v1h-3zM470,506h1v3h-1zM479,498h3v1h-3zM480,497h1v3h-1zM489,476h3v1h-3zM490,475h1v3h-1zM499,481h3v1h-3zM500,480h1v3h-1zM509,496h3v1h-3zM510,495h1v3h-1zM519,494h3v1h-3zM520,493h1v3h-1zM529,489h3v1h-3zM530,488h1v3h-1zM539,488h3v1h-3zM540,487h1v3h-1zM549,515h3v1h-3zM550,514h1v3h-1zM559,494h3v1h-3zM560,493h1v3h-1zM569,481h3v1h-3zM570,480h1v3h-1zM579,445h3v1h-3zM580,444h1v3h-1zM589,475h3v1h-3zM590,474h1v3h-1zM599,510h3v1h-3zM600,509h1v3h-1zM609,511h3v1h-3zM610,510h1v3h-1zM619,501h3v1h-3zM620,500h1v3h-1zM629,519h3v1h-3zM630,518h1v3h-1zM639,531h3v1h-3zM640,530h1v3h-1zM649,515h3v1h-3zM650,514h1v3h-1zM659,521h3v1h-3zM660,520h1v3h-1zM669,504h3v1h-3zM670,503h1v3h-1zM679,522h3v1h-3zM680,521h1v3h-1zM689,500h3v1h-3zM690,499h1v3h-1z" fill="#8e4fb5" shape-rendering="crispEdges"/><path d="M49,492h3v1h-3zM50,491h1v3h-1zM59,494h3v1h-3zM60,493h1v3h-1zM69,523h3v1h-3zM70,522h1v3h-1zM79,532h3v1h-3zM80,531h1v3h-1zM89,500h3v1h-3zM90,499h1v3h-1zM99,491h3v1h-3zM100,490h1v3h-1zM109,497h3v1h-3zM110,496h1v3h-1zM119,467h3v1h-3zM120,466h1v3h-1zM129,458h3v1h-3zM130,457h1v3h-1zM139,471h3v1h-3zM140,470h1v3h-1zM149,471h3v1h-3zM150,470h1v3h-1zM159,489h3v1h-3zM160,488h1v3h-1zM169,487h3v1h-3zM170,486h1v3h-1zM179,494h3v1h-3zM180,493h1v3h-1zM189,522h3v1h-3zM190,521h1v3h-1zM199,527h3v1h-3zM200,526h1v3h-1zM209,494h3v1h-3zM210,493h1v3h-1zM219,511h3v1h-3zM220,510h1v3h-1zM229,535h3v1h-3zM230,534h1v3h-1zM239,527h3v1h-3zM240,526h1v3h-1zM249,501h3v1h-3zM250,500h1v3h-1zM259,514h3v1h-3zM260,513h1v3h-1zM269,524h3v1h-3zM270,523h1v3h-1zM279,511h3v1h-3zM280,510h1v3h-1zM289,475h3v1h-3zM290,474h1v3h-1zM299,478h3v1h-3zM300,477h1v3h-1zM309,483h3v1h-3zM310,482h1v3h-1zM319,476h3v1h-3zM320,475h1v3h-1zM329,489h3v1h-3zM330,488h1v3h-1zM339,502h3v1h-3zM340,501h1v3h-1zM349,496h3v1h-3zM350,495h1v3h-1zM359,488h3v1h-3zM360,487h1v3h-1zM369,491h3v1h-3zM370,490h1v3h-1zM379,494h3v1h-3zM380,493h1v3h-1zM389,505h3v1h-3zM390,504h1v3h-1zM399,503h3v1h-3zM400,502h1v3h-1zM409,493h3v1h-3zM410,492h1v3h-1zM419,505h3v1h-3zM420,504h1v3h-1zM429,528h3v1h-3zM430,527h1v3h-1zM439,528h3v1h-3zM440,527h1v3h-1zM449,508h3v1h-3zM450,507h1v3h-1zM459,477h3v1h-3zM460,476h1v3h-1zM469,521h3v1h-3zM470,520h1v3h-1zM479,509h3v1h-3zM480,508h1v3h-1zM489,479h3v1h-3zM490,478h1v3h-1zM499,471h3v1h-3zM500,470h1v3h-1zM509,492h3v1h-3zM510,491h1v3h-1zM519,493h3v1h-3zM520,492h1v3h-1zM529,479h3v1h-3zM530,478h1v3h-1zM539,494h3v1h-3zM540,493h1v3h-1zM549,507h3v1h-3zM550,506h1v3h-1zM559,499h3v1h-3zM560,498h1v3h-1zM569,491h3v1h-3zM570,490h1v3h-1zM579,490h3v1h-3zM580,489h1v3h-1zM589,510h3v1h-3zM590,509h1v3h-1zM599,491h3v1h-3zM600,490h1v3h-1zM609,481h3v1h-3zM610,480h1v3h-1zM619,460h3v1h-3zM620,459h1v3h-1zM629,432h3v1h-3zM630,431h1v3h-1zM639,426h3v1h-3zM640,425h1v3h-1zM649,402h3v1h-3zM650,401h1v3h-1zM659,475h3v1h-3zM660,474h1v3h-1zM669,457h3v1h-3zM670,456h1v3h-1zM679,437h3v1h-3zM680,436h1v3h-1zM689,437h3v1h-3zM690,436h1v3h-1z" fill="#b04a0a" shape-rendering="crispEdges"/><path d="M49,494h3v1h-3zM50,493h1v3h-1zM59,494h3v1h-3zM60,493h1v3h-1zM69,529h3v1h-3zM70,528h1v3h-1zM79,536h3v1h-3zM80,535h1v3h-1zM89,502h3v1h-3zM90,501h1v3h-1zM99,495h3v1h-3zM100,494h1v3h-1zM109,495h3v1h-3zM110,494h1v3h-1zM119,479h3v1h-3zM120,478h1v3h-1zM129,470h3v1h-3zM130,469h1v3h-1zM139,480h3v1h-3zM140,479h1v3h-1zM149,475h3v1h-3zM150,474h1v3h-1zM159,489h3v1h-3zM160,488h1v3h-1zM169,494h3v1h-3zM170,493h1v3h-1zM179,512h3v1h-3zM180,511h1v3h-1zM189,521h3v1h-3zM190,520h1v3h-1zM199,535h3v1h-3zM200,534h1v3h-1zM209,499h3v1h-3zM210,498h1v3h-1zM219,503h3v1h-3zM220,502h1v3h-1zM229,527h3v1h-3zM230,526h1v3h-1zM239,504h3v1h-3zM240,503h1v3h-1zM249,492h3v1h-3zM250,491h1v3h-1zM259,486h3v1h-3zM260,485h1v3h-1zM269,511h3v1h-3zM270,510h1v3h-1zM279,514h3v1h-3zM280,513h1v3h-1zM289,489h3v1h-3zM290,488h1v3h-1zM299,464h3v1h-3zM300,463h1v3h-1zM309,499h3v1h-3zM310,498h1v3h-1zM319,495h3v1h-3zM320,494h1v3h-1zM329,487h3v1h-3zM330,486h1v3h-1zM339,493h3v1h-3zM340,492h1v3h-1zM349,513h3v1h-3zM350,512h1v3h-1zM359,488h3v1h-3zM360,487h1v3h-1zM369,503h3v1h-3zM370,502h1v3h-1zM379,493h3v1h-3zM380,492h1v3h-1zM389,507h3v1h-3zM390,506h1v3h-1zM399,515h3v1h-3zM400,514h1v3h-1zM409,490h3v1h-3zM410,489h1v3h-1zM419,510h3v1h-3zM420,509h1v3h-1zM429,519h3v1h-3zM430,518h1v3h-1zM439,495h3v1h-3zM440,494h1v3h-1zM449,460h3v1h-3zM450,459h1v3h-1zM459,502h3v1h-3zM460,501h1v3h-1zM469,530h3v1h-3zM470,529h1v3h-1zM479,502h3v1h-3zM480,501h1v3h-1zM489,495h3v1h-3zM490,494h1v3h-1zM499,474h3v1h-3zM500,473h1v3h-1zM509,506h3v1h-3zM510,505h1v3h-1zM519,496h3v1h-3zM520,495h1v3h-1zM529,477h3v1h-3zM530,476h1v3h-1zM539,492h3v1h-3zM540,491h1v3h-1zM549,491h3v1h-3zM550,490h1v3h-1zM559,485h3v1h-3zM560,484h1v3h-1zM569,479h3v1h-3zM570,478h1v3h-1zM579,508h3v1h-3zM580,507h1v3h-1zM589,510h3v1h-3zM590,509h1v3h-1zM599,484h3v1h-3zM600,483h1v3h-1zM609,513h3v1h-3zM610,512h1v3h-1zM619,502h3v1h-3zM620,501h1v3h-1zM629,511h3v1h-3zM630,510h1v3h-1zM639,511h3v1h-3zM640,510h1v3h-1zM649,494h3v1h-3zM650,493h1v3h-1zM659,483h3v1h-3zM660,482h1v3h-1zM669,503h3v1h-3zM670,502h1v3h-1zM679,505h3v1h-3zM680,504h1v3h-1zM689,510h3v1h-3zM690,509h1v3h-1z" fill="#4c7f10" shape-rendering="crispEdges"/><path d="M49,497h3v1h-3zM50,496h1v3h-1zM59,492h3v1h-3zM60,491h1v3h-1zM69,517h3v1h-3zM70,516h1v3h-1zM79,522h3v1h-3zM80,521h1v3h-1zM89,505h3v1h-3zM90,504h1v3h-1zM99,490h3v1h-3zM100,489h1v3h-1zM109,505h3v1h-3zM110,504h1v3h-1zM119,474h3v1h-3zM120,473h1v3h-1zM129,457h3v1h-3zM130,456h1v3h-1zM139,485h3v1h-3zM140,484h1v3h-1zM149,481h3v1h-3zM150,480h1v3h-1zM159,497h3v1h-3zM160,496h1v3h-1zM169,510h3v1h-3zM170,509h1v3h-1zM179,515h3v1h-3zM180,514h1v3h-1zM189,531h3v1h-3zM190,530h1v3h-1zM199,531h3v1h-3zM200,530h1v3h-1zM209,500h3v1h-3zM210,499h1v3h-1zM219,509h3v1h-3zM220,508h1v3h-1zM229,519h3v1h-3zM230,518h1v3h-1zM239,504h3v1h-3zM240,503h1v3h-1zM249,486h3v1h-3zM250,485h1v3h-1zM259,498h3v1h-3zM260,497h1v3h-1zM269,519h3v1h-3zM270,518h1v3h-1zM279,514h3v1h-3zM280,513h1v3h-1zM289,487h3v1h-3zM290,486h1v3h-1zM299,502h3v1h-3zM300,501h1v3h-1zM309,478h3v1h-3zM310,477h1v3h-1zM319,448h3v1h-3zM320,447h1v3h-1zM329,427h3v1h-3zM330,426h1v3h-1zM339,449h3v1h-3zM340,448h1v3h-1zM349,458h3v1h-3zM350,457h1v3h-1zM359,456h3v1h-3zM360,455h1v3h-1zM369,424h3v1h-3zM370,423h1v3h-1zM379,461h3v1h-3zM380,460h1v3h-1zM389,489h3v1h-3zM390,488h1v3h-1zM399,488h3v1h-3zM400,487h1v3h-1zM409,484h3v1h-3zM410,483h1v3h-1zM419,468h3v1h-3zM420,467h1v3h-1zM429,455h3v1h-3zM430,454h1v3h-1zM439,462h3v1h-3zM440,461h1v3h-1zM449,460h3v1h-3zM450,459h1v3h-1zM459,478h3v1h-3zM460,477h1v3h-1zM469,488h3v1h-3zM470,487h1v3h-1zM479,474h3v1h-3zM480,473h1v3h-1zM489,471h3v1h-3zM490,470h1v3h-1zM499,472h3v1h-3zM500,471h1v3h-1zM509,472h3v1h-3zM510,471h1v3h-1zM519,472h3v1h-3zM520,471h1v3h-1zM529,488h3v1h-3zM530,487h1v3h-1zM539,504h3v1h-3zM540,503h1v3h-1zM549,506h3v1h-3zM550,505h1v3h-1zM559,503h3v1h-3zM560,502h1v3h-1zM569,502h3v1h-3zM570,501h1v3h-1zM579,511h3v1h-3zM580,510h1v3h-1zM589,516h3v1h-3zM590,515h1v3h-1zM599,523h3v1h-3zM600,522h1v3h-1zM609,530h3v1h-3zM610,529h1v3h-1zM619,514h3v1h-3zM620,513h1v3h-1zM629,523h3v1h-3zM630,522h1v3h-1zM639,534h3v1h-3zM640,533h1v3h-1zM649,522h3v1h-3zM650,521h1v3h-1zM659,514h3v1h-3zM660,513h1v3h-1zM669,513h3v1h-3zM670,512h1v3h-1zM679,496h3v1h-3zM680,495h1v3h-1zM689,480h3v1h-3zM690,479h1v3h-1z" fill="#1e90ff" shape-rendering="crispEdges"/><path d="M49,491h3v1h-3zM50,490h1v3h-1zM59,487h3v1h-3zM60,486h1v3h-1zM69,515h3v1h-3zM70,514h1v3h-1zM79,527h3v1h-3zM80,526h1v3h-1zM89,505h3v1h-3zM90,504h1v3h-1zM99,502h3v1h-3zM100,501h1v3h-1zM109,528h3v1h-3zM110,527h1v3h-1zM119,491h3v1h-3zM120,490h1v3h-1zM129,472h3v1h-3zM130,471h1v3h-1zM139,497h3v1h-3zM140,496h1v3h-1zM149,499h3v1h-3zM150,498h1v3h-1zM159,497h3v1h-3zM160,496h1v3h-1zM169,505h3v1h-3zM170,504h1v3h-1zM179,513h3v1h-3zM180,512h1v3h-1zM189,521h3v1h-3zM190,520h1v3h-1zM199,534h3v1h-3zM200,533h1v3h-1zM209,509h3v1h-3zM210,508h1v3h-1zM219,514h3v1h-3zM220,513h1v3h-1zM229,534h3v1h-3zM230,533h1v3h-1zM239,523h3v1h-3zM240,522h1v3h-1zM249,500h3v1h-3zM250,499h1v3h-1zM259,503h3v1h-3zM260,502h1v3h-1zM269,507h3v1h-3zM270,506h1v3h-1zM279,500h3v1h-3zM280,499h1v3h-1zM289,474h3v1h-3zM290,473h1v3h-1zM299,488h3v1h-3zM300,487h1v3h-1zM309,486h3v1h-3zM310,485h1v3h-1zM319,479h3v1h-3zM320,478h1v3h-1zM329,481h3v1h-3zM330,480h1v3h-1zM339,503h3v1h-3zM340,502h1v3h-1zM349,512h3v1h-3zM350,511h1v3h-1zM359,509h3v1h-3zM360,508h1v3h-1zM369,491h3v1h-3zM370,490h1v3h-1zM379,498h3v1h-3zM380,497h1v3h-1zM389,523h3v1h-3zM390,522h1v3h-1zM399,518h3v1h-3zM400,517h1v3h-1zM409,516h3v1h-3zM410,515h1v3h-1zM419,512h3v1h-3zM420,511h1v3h-1zM429,527h3v1h-3zM430,526h1v3h-1zM439,514h3v1h-3zM440,513h1v3h-1zM449,482h3v1h-3zM450,481h1v3h-1zM459,507h3v1h-3zM460,506h1v3h-1zM469,529h3v1h-3zM470,528h1v3h-1zM479,504h3v1h-3zM480,503h1v3h-1zM489,501h3v1h-3zM490,500h1v3h-1zM499,478h3v1h-3zM500,477h1v3h-1zM509,503h3v1h-3zM510,502h1v3h-1zM519,512h3v1h-3zM520,511h1v3h-1zM529,513h3v1h-3zM530,512h1v3h-1zM539,528h3v1h-3zM540,527h1v3h-1zM549,523h3v1h-3zM550,522h1v3h-1zM559,501h3v1h-3zM560,500h1v3h-1zM569,503h3v1h-3zM570,502h1v3h-1zM579,507h3v1h-3zM580,506h1v3h-1zM589,503h3v1h-3zM590,502h1v3h-1zM599,515h3v1h-3zM600,514h1v3h-1zM609,516h3v1h-3zM610,515h1v3h-1zM619,513h3v1h-3zM620,512h1v3h-1zM629,516h3v1h-3zM630,515h1v3h-1zM639,517h3v1h-3zM640,516h1v3h-1zM649,519h3v1h-3zM650,518h1v3h-1zM659,475h3v1h-3zM660,474h1v3h-1zM669,504h3v1h-3zM670,503h1v3h-1zM679,488h3v1h-3zM680,487h1v3h-1zM689,485h3v1h-3zM690,484h1v3h-1z" fill="#e8d9b0" shape-rendering="crispEdges"/><path d="M49,490h3v1h-3zM50,489h1v3h-1zM59,488h3v1h-3zM60,487h1v3h-1zM69,518h3v1h-3zM70,517h1v3h-1zM79,525h3v1h-3zM80,524h1v3h-1zM89,499h3v1h-3zM90,498h1v3h-1zM99,487h3v1h-3zM100,486h1v3h-1zM109,491h3v1h-3zM110,490h1v3h-1zM119,466h3v1h-3zM120,465h1v3h-1zM129,457h3v1h-3zM130,456h1v3h-1zM139,478h3v1h-3zM140,477h1v3h-1zM149,478h3v1h-3zM150,477h1v3h-1zM159,471h3v1h-3zM160,470h1v3h-1zM169,495h3v1h-3zM170,494h1v3h-1zM179,500h3v1h-3zM180,499h1v3h-1zM189,513h3v1h-3zM190,512h1v3h-1zM199,508h3v1h-3zM200,507h1v3h-1zM209,487h3v1h-3zM210,486h1v3h-1zM219,508h3v1h-3zM220,507h1v3h-1zM229,534h3v1h-3zM230,533h1v3h-1zM239,522h3v1h-3zM240,521h1v3h-1zM249,503h3v1h-3zM250,502h1v3h-1zM259,513h3v1h-3zM260,512h1v3h-1zM269,534h3v1h-3zM270,533h1v3h-1zM279,527h3v1h-3zM280,526h1v3h-1zM289,494h3v1h-3zM290,493h1v3h-1zM299,505h3v1h-3zM300,504h1v3h-1zM309,528h3v1h-3zM310,527h1v3h-1zM319,505h3v1h-3zM320,504h1v3h-1zM329,492h3v1h-3zM330,491h1v3h-1zM339,503h3v1h-3zM340,502h1v3h-1zM349,515h3v1h-3zM350,514h1v3h-1zM359,483h3v1h-3zM360,482h1v3h-1zM369,485h3v1h-3zM370,484h1v3h-1zM379,517h3v1h-3zM380,516h1v3h-1zM389,517h3v1h-3zM390,516h1v3h-1zM399,509h3v1h-3zM400,508h1v3h-1zM409,497h3v1h-3zM410,496h1v3h-1zM419,516h3v1h-3zM420,515h1v3h-1zM429,511h3v1h-3zM430,510h1v3h-1zM439,504h3v1h-3zM440,503h1v3h-1zM449,477h3v1h-3zM450,476h1v3h-1zM459,498h3v1h-3zM460,497h1v3h-1zM469,520h3v1h-3zM470,519h1v3h-1zM479,513h3v1h-3zM480,512h1v3h-1zM489,501h3v1h-3zM490,500h1v3h-1zM499,506h3v1h-3zM500,505h1v3h-1zM509,524h3v1h-3zM510,523h1v3h-1zM519,497h3v1h-3zM520,496h1v3h-1zM529,484h3v1h-3zM530,483h1v3h-1zM539,486h3v1h-3zM540,485h1v3h-1zM549,519h3v1h-3zM550,518h1v3h-1zM559,503h3v1h-3zM560,502h1v3h-1zM569,479h3v1h-3zM570,478h1v3h-1zM579,474h3v1h-3zM580,473h1v3h-1zM589,488h3v1h-3zM590,487h1v3h-1zM599,454h3v1h-3zM600,453h1v3h-1zM609,484h3v1h-3zM610,483h1v3h-1zM619,498h3v1h-3zM620,497h1v3h-1zM629,491h3v1h-3zM630,490h1v3h-1zM639,456h3v1h-3zM640,455h1v3h-1zM649,488h3v1h-3zM650,487h1v3h-1zM659,477h3v1h-3zM660,476h1v3h-1zM669,497h3v1h-3zM670,496h1v3h-1zM679,501h3v1h-3zM680,500h1v3h-1zM689,507h3v1h-3zM690,506h1v3h-1z" fill="#3a8cc0" shape-rendering="crispEdges"/><path d="M49,492h3v1h-3zM50,491h1v3h-1zM59,495h3v1h-3zM60,494h1v3h-1zM69,522h3v1h-3zM70,521h1v3h-1zM79,539h3v1h-3zM80,538h1v3h-1zM89,513h3v1h-3zM90,512h1v3h-1zM99,506h3v1h-3zM100,505h1v3h-1zM109,507h3v1h-3zM110,506h1v3h-1zM119,480h3v1h-3zM120,479h1v3h-1zM129,486h3v1h-3zM130,485h1v3h-1zM139,499h3v1h-3zM140,498h1v3h-1zM149,482h3v1h-3zM150,481h1v3h-1zM159,482h3v1h-3zM160,481h1v3h-1zM169,478h3v1h-3zM170,477h1v3h-1zM179,487h3v1h-3zM180,486h1v3h-1zM189,517h3v1h-3zM190,516h1v3h-1zM199,523h3v1h-3zM200,522h1v3h-1zM209,495h3v1h-3zM210,494h1v3h-1zM219,498h3v1h-3zM220,497h1v3h-1zM229,507h3v1h-3zM230,506h1v3h-1zM239,506h3v1h-3zM240,505h1v3h-1zM249,503h3v1h-3zM250,502h1v3h-1zM259,502h3v1h-3zM260,501h1v3h-1zM269,504h3v1h-3zM270,503h1v3h-1zM279,483h3v1h-3zM280,482h1v3h-1zM289,471h3v1h-3zM290,470h1v3h-1zM299,492h3v1h-3zM300,491h1v3h-1zM309,507h3v1h-3zM310,506h1v3h-1zM319,500h3v1h-3zM320,499h1v3h-1zM329,486h3v1h-3zM330,485h1v3h-1zM339,473h3v1h-3zM340,472h1v3h-1zM349,481h3v1h-3zM350,480h1v3h-1zM359,497h3v1h-3zM360,496h1v3h-1zM369,485h3v1h-3zM370,484h1v3h-1zM379,522h3v1h-3zM380,521h1v3h-1zM389,502h3v1h-3zM390,501h1v3h-1zM399,448h3v1h-3zM400,447h1v3h-1zM409,472h3v1h-3zM410,471h1v3h-1zM419,495h3v1h-3zM420,494h1v3h-1zM429,520h3v1h-3zM430,519h1v3h-1zM439,521h3v1h-3zM440,520h1v3h-1zM449,512h3v1h-3zM450,511h1v3h-1zM459,513h3v1h-3zM460,512h1v3h-1zM469,526h3v1h-3zM470,525h1v3h-1zM479,529h3v1h-3zM480,528h1v3h-1zM489,503h3v1h-3zM490,502h1v3h-1zM499,508h3v1h-3zM500,507h1v3h-1zM509,537h3v1h-3zM510,536h1v3h-1zM519,523h3v1h-3zM520,522h1v3h-1zM529,513h3v1h-3zM530,512h1v3h-1zM539,528h3v1h-3zM540,527h1v3h-1zM549,521h3v1h-3zM550,520h1v3h-1zM559,508h3v1h-3zM560,507h1v3h-1zM569,508h3v1h-3zM570,507h1v3h-1zM579,516h3v1h-3zM580,515h1v3h-1zM589,509h3v1h-3zM590,508h1v3h-1zM599,524h3v1h-3zM600,523h1v3h-1zM609,512h3v1h-3zM610,511h1v3h-1zM619,493h3v1h-3zM620,492h1v3h-1zM629,514h3v1h-3zM630,513h1v3h-1zM639,520h3v1h-3zM640,519h1v3h-1zM649,508h3v1h-3zM650,507h1v3h-1zM659,494h3v1h-3zM660,493h1v3h-1zM669,516h3v1h-3zM670,515h1v3h-1zM679,519h3v1h-3zM680,518h1v3h-1zM689,512h3v1h-3zM690,511h1v3h-1z" fill="#e8a84f" shape-rendering="crispEdges"/><path d="M49,493h3v1h-3zM50,492h1v3h-1zM59,494h3v1h-3zM60,493h1v3h-1zM69,523h3v1h-3zM70,522h1v3h-1zM79,532h3v1h-3zM80,531h1v3h-1zM89,502h3v1h-3zM90,501h1v3h-1zM99,479h3v1h-3zM100,478h1v3h-1zM109,488h3v1h-3zM110,487h1v3h-1zM119,481h3v1h-3zM120,480h1v3h-1zM129,479h3v1h-3zM130,478h1v3h-1zM139,479h3v1h-3zM140,478h1v3h-1zM149,480h3v1h-3zM150,479h1v3h-1zM159,485h3v1h-3zM160,484h1v3h-1zM169,498h3v1h-3zM170,497h1v3h-1zM179,513h3v1h-3zM180,512h1v3h-1zM189,531h3v1h-3zM190,530h1v3h-1zM199,535h3v1h-3zM200,534h1v3h-1zM209,499h3v1h-3zM210,498h1v3h-1zM219,510h3v1h-3zM220,509h1v3h-1zM229,533h3v1h-3zM230,532h1v3h-1zM239,525h3v1h-3zM240,524h1v3h-1zM249,497h3v1h-3zM250,496h1v3h-1zM259,485h3v1h-3zM260,484h1v3h-1zM269,506h3v1h-3zM270,505h1v3h-1zM279,503h3v1h-3zM280,502h1v3h-1zM289,491h3v1h-3zM290,490h1v3h-1zM299,476h3v1h-3zM300,475h1v3h-1zM309,504h3v1h-3zM310,503h1v3h-1zM319,491h3v1h-3zM320,490h1v3h-1zM329,485h3v1h-3zM330,484h1v3h-1zM339,504h3v1h-3zM340,503h1v3h-1zM349,504h3v1h-3zM350,503h1v3h-1zM359,517h3v1h-3zM360,516h1v3h-1zM369,499h3v1h-3zM370,498h1v3h-1zM379,513h3v1h-3zM380,512h1v3h-1zM389,516h3v1h-3zM390,515h1v3h-1zM399,510h3v1h-3zM400,509h1v3h-1zM409,489h3v1h-3zM410,488h1v3h-1zM419,482h3v1h-3zM420,481h1v3h-1zM429,522h3v1h-3zM430,521h1v3h-1zM439,512h3v1h-3zM440,511h1v3h-1zM449,495h3v1h-3zM450,494h1v3h-1zM459,502h3v1h-3zM460,501h1v3h-1zM469,510h3v1h-3zM470,509h1v3h-1zM479,515h3v1h-3zM480,514h1v3h-1zM489,496h3v1h-3zM490,495h1v3h-1zM499,503h3v1h-3zM500,502h1v3h-1zM509,514h3v1h-3zM510,513h1v3h-1zM519,519h3v1h-3zM520,518h1v3h-1zM529,510h3v1h-3zM530,509h1v3h-1zM539,512h3v1h-3zM540,511h1v3h-1zM549,513h3v1h-3zM550,512h1v3h-1zM559,492h3v1h-3zM560,491h1v3h-1zM569,494h3v1h-3zM570,493h1v3h-1zM579,487h3v1h-3zM580,486h1v3h-1zM589,508h3v1h-3zM590,507h1v3h-1zM599,470h3v1h-3zM600,469h1v3h-1zM609,454h3v1h-3zM610,453h1v3h-1zM619,474h3v1h-3zM620,473h1v3h-1zM629,493h3v1h-3zM630,492h1v3h-1zM639,466h3v1h-3zM640,465h1v3h-1zM649,479h3v1h-3zM650,478h1v3h-1zM659,453h3v1h-3zM660,452h1v3h-1zM669,450h3v1h-3zM670,449h1v3h-1zM679,465h3v1h-3zM680,464h1v3h-1zM689,466h3v1h-3zM690,465h1v3h-1z" fill="#5c4a1e" shape-rendering="crispEdges"/><path d="M49,494h3v1h-3zM50,493h1v3h-1zM59,492h3v1h-3zM60,491h1v3h-1zM69,521h3v1h-3zM70,520h1v3h-1zM79,532h3v1h-3zM80,531h1v3h-1zM89,504h3v1h-3zM90,503h1v3h-1zM99,498h3v1h-3zM100,497h1v3h-1zM109,526h3v1h-3zM110,525h1v3h-1zM119,484h3v1h-3zM120,483h1v3h-1zM129,476h3v1h-3zM130,475h1v3h-1zM139,494h3v1h-3zM140,493h1v3h-1zM149,498h3v1h-3zM150,497h1v3h-1zM159,503h3v1h-3zM160,502h1v3h-1zM169,503h3v1h-3zM170,502h1v3h-1zM179,509h3v1h-3zM180,508h1v3h-1zM189,509h3v1h-3zM190,508h1v3h-1zM199,508h3v1h-3zM200,507h1v3h-1zM209,491h3v1h-3zM210,490h1v3h-1zM219,500h3v1h-3zM220,499h1v3h-1zM229,529h3v1h-3zM230,528h1v3h-1zM239,517h3v1h-3zM240,516h1v3h-1zM249,503h3v1h-3zM250,502h1v3h-1zM259,517h3v1h-3zM260,516h1v3h-1zM269,527h3v1h-3zM270,526h1v3h-1zM279,508h3v1h-3zM280,507h1v3h-1zM289,494h3v1h-3zM290,493h1v3h-1zM299,498h3v1h-3zM300,497h1v3h-1zM309,500h3v1h-3zM310,499h1v3h-1zM319,498h3v1h-3zM320,497h1v3h-1zM329,485h3v1h-3zM330,484h1v3h-1zM339,498h3v1h-3zM340,497h1v3h-1zM349,477h3v1h-3zM350,476h1v3h-1zM359,484h3v1h-3zM360,483h1v3h-1zM369,484h3v1h-3zM370,483h1v3h-1zM379,482h3v1h-3zM380,481h1v3h-1zM389,495h3v1h-3zM390,494h1v3h-1zM399,476h3v1h-3zM400,475h1v3h-1zM409,482h3v1h-3zM410,481h1v3h-1zM419,497h3v1h-3zM420,496h1v3h-1zM429,523h3v1h-3zM430,522h1v3h-1zM439,523h3v1h-3zM440,522h1v3h-1zM449,500h3v1h-3zM450,499h1v3h-1zM459,502h3v1h-3zM460,501h1v3h-1zM469,520h3v1h-3zM470,519h1v3h-1zM479,520h3v1h-3zM480,519h1v3h-1zM489,513h3v1h-3zM490,512h1v3h-1zM499,495h3v1h-3zM500,494h1v3h-1zM509,492h3v1h-3zM510,491h1v3h-1zM519,480h3v1h-3zM520,479h1v3h-1zM529,446h3v1h-3zM530,445h1v3h-1zM539,469h3v1h-3zM540,468h1v3h-1zM549,503h3v1h-3zM550,502h1v3h-1zM559,521h3v1h-3zM560,520h1v3h-1zM569,520h3v1h-3zM570,519h1v3h-1zM579,517h3v1h-3zM580,516h1v3h-1zM589,513h3v1h-3zM590,512h1v3h-1zM599,519h3v1h-3zM600,518h1v3h-1zM609,531h3v1h-3zM610,530h1v3h-1zM619,501h3v1h-3zM620,500h1v3h-1zM629,490h3v1h-3zM630,489h1v3h-1zM639,515h3v1h-3zM640,514h1v3h-1zM649,487h3v1h-3zM650,486h1v3h-1zM659,517h3v1h-3zM660,516h1v3h-1zM669,510h3v1h-3zM670,509h1v3h-1zM679,534h3v1h-3zM680,533h1v3h-1zM689,529h3v1h-3zM690,528h1v3h-1z" fill="#f06020" shape-rendering="crispEdges"/><path d="M49,495h3v1h-3zM50,494h1v3h-1zM59,500h3v1h-3zM60,499h1v3h-1zM69,530h3v1h-3zM70,529h1v3h-1zM79,540h3v1h-3zM80,539h1v3h-1zM89,516h3v1h-3zM90,515h1v3h-1zM99,496h3v1h-3zM100,495h1v3h-1zM109,494h3v1h-3zM110,493h1v3h-1zM119,479h3v1h-3zM120,478h1v3h-1zM129,478h3v1h-3zM130,477h1v3h-1zM139,480h3v1h-3zM140,479h1v3h-1zM149,487h3v1h-3zM150,486h1v3h-1zM159,500h3v1h-3zM160,499h1v3h-1zM169,503h3v1h-3zM170,502h1v3h-1zM179,509h3v1h-3zM180,508h1v3h-1zM189,512h3v1h-3zM190,511h1v3h-1zM199,512h3v1h-3zM200,511h1v3h-1zM209,491h3v1h-3zM210,490h1v3h-1zM219,509h3v1h-3zM220,508h1v3h-1zM229,526h3v1h-3zM230,525h1v3h-1zM239,520h3v1h-3zM240,519h1v3h-1zM249,503h3v1h-3zM250,502h1v3h-1zM259,499h3v1h-3zM260,498h1v3h-1zM269,508h3v1h-3zM270,507h1v3h-1zM279,510h3v1h-3zM280,509h1v3h-1zM289,473h3v1h-3zM290,472h1v3h-1zM299,477h3v1h-3zM300,476h1v3h-1zM309,497h3v1h-3zM310,496h1v3h-1zM319,475h3v1h-3zM320,474h1v3h-1zM329,482h3v1h-3zM330,481h1v3h-1zM339,490h3v1h-3zM340,489h1v3h-1zM349,496h3v1h-3zM350,495h1v3h-1zM359,503h3v1h-3zM360,502h1v3h-1zM369,503h3v1h-3zM370,502h1v3h-1zM379,490h3v1h-3zM380,489h1v3h-1zM389,502h3v1h-3zM390,501h1v3h-1zM399,510h3v1h-3zM400,509h1v3h-1zM409,501h3v1h-3zM410,500h1v3h-1zM419,507h3v1h-3zM420,506h1v3h-1zM429,517h3v1h-3zM430,516h1v3h-1zM439,514h3v1h-3zM440,513h1v3h-1zM449,497h3v1h-3zM450,496h1v3h-1zM459,513h3v1h-3zM460,512h1v3h-1zM469,541h3v1h-3zM470,540h1v3h-1zM479,526h3v1h-3zM480,525h1v3h-1zM489,497h3v1h-3zM490,496h1v3h-1zM499,510h3v1h-3zM500,509h1v3h-1zM509,528h3v1h-3zM510,527h1v3h-1zM519,515h3v1h-3zM520,514h1v3h-1zM529,489h3v1h-3zM530,488h1v3h-1zM539,502h3v1h-3zM540,501h1v3h-1zM549,511h3v1h-3zM550,510h1v3h-1zM559,482h3v1h-3zM560,481h1v3h-1zM569,473h3v1h-3zM570,472h1v3h-1zM579,497h3v1h-3zM580,496h1v3h-1zM589,515h3v1h-3zM590,514h1v3h-1zM599,517h3v1h-3zM600,516h1v3h-1zM609,509h3v1h-3zM610,508h1v3h-1zM619,511h3v1h-3zM620,510h1v3h-1zM629,514h3v1h-3zM630,513h1v3h-1zM639,520h3v1h-3zM640,519h1v3h-1zM649,505h3v1h-3zM650,504h1v3h-1zM659,483h3v1h-3zM660,482h1v3h-1zM669,486h3v1h-3zM670,485h1v3h-1zM679,501h3v1h-3zM680,500h1v3h-1zM689,511h3v1h-3zM690,510h1v3h-1z" fill="#d4c37e" shape-rendering="crispEdges"/><path d="M49,490h3v1h-3zM50,489h1v3h-1zM59,492h3v1h-3zM60,491h1v3h-1zM69,519h3v1h-3zM70,518h1v3h-1zM79,529h3v1h-3zM80,528h1v3h-1zM89,508h3v1h-3zM90,507h1v3h-1zM99,486h3v1h-3zM100,485h1v3h-1zM109,502h3v1h-3zM110,501h1v3h-1zM119,480h3v1h-3zM120,479h1v3h-1zM129,471h3v1h-3zM130,470h1v3h-1zM139,494h3v1h-3zM140,493h1v3h-1zM149,495h3v1h-3zM150,494h1v3h-1zM159,474h3v1h-3zM160,473h1v3h-1zM169,498h3v1h-3zM170,497h1v3h-1zM179,525h3v1h-3zM180,524h1v3h-1zM189,530h3v1h-3zM190,529h1v3h-1zM199,527h3v1h-3zM200,526h1v3h-1zM209,500h3v1h-3zM210,499h1v3h-1zM219,518h3v1h-3zM220,517h1v3h-1zM229,517h3v1h-3zM230,516h1v3h-1zM239,510h3v1h-3zM240,509h1v3h-1zM249,504h3v1h-3zM250,503h1v3h-1zM259,517h3v1h-3zM260,516h1v3h-1zM269,533h3v1h-3zM270,532h1v3h-1zM279,517h3v1h-3zM280,516h1v3h-1zM289,483h3v1h-3zM290,482h1v3h-1zM299,495h3v1h-3zM300,494h1v3h-1zM309,494h3v1h-3zM310,493h1v3h-1zM319,490h3v1h-3zM320,489h1v3h-1zM329,484h3v1h-3zM330,483h1v3h-1zM339,491h3v1h-3zM340,490h1v3h-1zM349,484h3v1h-3zM350,483h1v3h-1zM359,483h3v1h-3zM360,482h1v3h-1zM369,489h3v1h-3zM370,488h1v3h-1zM379,487h3v1h-3zM380,486h1v3h-1zM389,516h3v1h-3zM390,515h1v3h-1zM399,498h3v1h-3zM400,497h1v3h-1zM409,466h3v1h-3zM410,465h1v3h-1zM419,474h3v1h-3zM420,473h1v3h-1zM429,484h3v1h-3zM430,483h1v3h-1zM439,485h3v1h-3zM440,484h1v3h-1zM449,475h3v1h-3zM450,474h1v3h-1zM459,500h3v1h-3zM460,499h1v3h-1zM469,530h3v1h-3zM470,529h1v3h-1zM479,514h3v1h-3zM480,513h1v3h-1zM489,490h3v1h-3zM490,489h1v3h-1zM499,500h3v1h-3zM500,499h1v3h-1zM509,521h3v1h-3zM510,520h1v3h-1zM519,505h3v1h-3zM520,504h1v3h-1zM529,477h3v1h-3zM530,476h1v3h-1zM539,463h3v1h-3zM540,462h1v3h-1zM549,464h3v1h-3zM550,463h1v3h-1zM559,484h3v1h-3zM560,483h1v3h-1zM569,500h3v1h-3zM570,499h1v3h-1zM579,492h3v1h-3zM580,491h1v3h-1zM589,507h3v1h-3zM590,506h1v3h-1zM599,501h3v1h-3zM600,500h1v3h-1zM609,478h3v1h-3zM610,477h1v3h-1zM619,451h3v1h-3zM620,450h1v3h-1zM629,502h3v1h-3zM630,501h1v3h-1zM639,500h3v1h-3zM640,499h1v3h-1zM649,508h3v1h-3zM650,507h1v3h-1zM659,513h3v1h-3zM660,512h1v3h-1zM669,495h3v1h-3zM670,494h1v3h-1zM679,515h3v1h-3zM680,514h1v3h-1zM689,521h3v1h-3zM690,520h1v3h-1z" fill="#10d860" shape-rendering="crispEdges"/><path d="M49,493h3v1h-3zM50,492h1v3h-1zM59,496h3v1h-3zM60,495h1v3h-1zM69,524h3v1h-3zM70,523h1v3h-1zM79,531h3v1h-3zM80,530h1v3h-1zM89,510h3v1h-3zM90,509h1v3h-1zM99,488h3v1h-3zM100,487h1v3h-1zM109,495h3v1h-3zM110,494h1v3h-1zM119,475h3v1h-3zM120,474h1v3h-1zM129,474h3v1h-3zM130,473h1v3h-1zM139,498h3v1h-3zM140,497h1v3h-1zM149,513h3v1h-3zM150,512h1v3h-1zM159,515h3v1h-3zM160,514h1v3h-1zM169,515h3v1h-3zM170,514h1v3h-1zM179,519h3v1h-3zM180,518h1v3h-1zM189,516h3v1h-3zM190,515h1v3h-1zM199,523h3v1h-3zM200,522h1v3h-1zM209,494h3v1h-3zM210,493h1v3h-1zM219,504h3v1h-3zM220,503h1v3h-1zM229,542h3v1h-3zM230,541h1v3h-1zM239,527h3v1h-3zM240,526h1v3h-1zM249,499h3v1h-3zM250,498h1v3h-1zM259,497h3v1h-3zM260,496h1v3h-1zM269,523h3v1h-3zM270,522h1v3h-1zM279,504h3v1h-3zM280,503h1v3h-1zM289,488h3v1h-3zM290,487h1v3h-1zM299,495h3v1h-3zM300,494h1v3h-1zM309,476h3v1h-3zM310,475h1v3h-1zM319,470h3v1h-3zM320,469h1v3h-1zM329,487h3v1h-3zM330,486h1v3h-1zM339,504h3v1h-3zM340,503h1v3h-1zM349,501h3v1h-3zM350,500h1v3h-1zM359,476h3v1h-3zM360,475h1v3h-1zM369,482h3v1h-3zM370,481h1v3h-1zM379,492h3v1h-3zM380,491h1v3h-1zM389,501h3v1h-3zM390,500h1v3h-1zM399,491h3v1h-3zM400,490h1v3h-1zM409,470h3v1h-3zM410,469h1v3h-1zM419,484h3v1h-3zM420,483h1v3h-1zM429,495h3v1h-3zM430,494h1v3h-1zM439,521h3v1h-3zM440,520h1v3h-1zM449,502h3v1h-3zM450,501h1v3h-1zM459,509h3v1h-3zM460,508h1v3h-1zM469,520h3v1h-3zM470,519h1v3h-1zM479,509h3v1h-3zM480,508h1v3h-1zM489,485h3v1h-3zM490,484h1v3h-1zM499,491h3v1h-3zM500,490h1v3h-1zM509,500h3v1h-3zM510,499h1v3h-1zM519,491h3v1h-3zM520,490h1v3h-1zM529,479h3v1h-3zM530,478h1v3h-1zM539,488h3v1h-3zM540,487h1v3h-1zM549,490h3v1h-3zM550,489h1v3h-1zM559,473h3v1h-3zM560,472h1v3h-1zM569,468h3v1h-3zM570,467h1v3h-1zM579,480h3v1h-3zM580,479h1v3h-1zM589,508h3v1h-3zM590,507h1v3h-1zM599,496h3v1h-3zM600,495h1v3h-1zM609,485h3v1h-3zM610,484h1v3h-1zM619,476h3v1h-3zM620,475h1v3h-1zM629,491h3v1h-3zM630,490h1v3h-1zM639,502h3v1h-3zM640,501h1v3h-1zM649,459h3v1h-3zM650,458h1v3h-1zM659,453h3v1h-3zM660,452h1v3h-1zM669,469h3v1h-3zM670,468h1v3h-1zM679,467h3v1h-3zM680,466h1v3h-1zM689,473h3v1h-3zM690,472h1v3h-1z" fill="#25435e" shape-rendering="crispEdges"/><path d="M49,494h3v1h-3zM50,493h1v3h-1zM59,494h3v1h-3zM60,493h1v3h-1zM69,518h3v1h-3zM70,517h1v3h-1zM79,524h3v1h-3zM80,523h1v3h-1zM89,514h3v1h-3zM90,513h1v3h-1zM99,491h3v1h-3zM100,490h1v3h-1zM109,497h3v1h-3zM110,496h1v3h-1zM119,480h3v1h-3zM120,479h1v3h-1zM129,487h3v1h-3zM130,486h1v3h-1zM139,505h3v1h-3zM140,504h1v3h-1zM149,498h3v1h-3zM150,497h1v3h-1zM159,499h3v1h-3zM160,498h1v3h-1zM169,503h3v1h-3zM170,502h1v3h-1zM179,500h3v1h-3zM180,499h1v3h-1zM189,527h3v1h-3zM190,526h1v3h-1zM199,513h3v1h-3zM200,512h1v3h-1zM209,492h3v1h-3zM210,491h1v3h-1zM219,507h3v1h-3zM220,506h1v3h-1zM229,529h3v1h-3zM230,528h1v3h-1zM239,510h3v1h-3zM240,509h1v3h-1zM249,501h3v1h-3zM250,500h1v3h-1zM259,499h3v1h-3zM260,498h1v3h-1zM269,524h3v1h-3zM270,523h1v3h-1zM279,513h3v1h-3zM280,512h1v3h-1zM289,497h3v1h-3zM290,496h1v3h-1zM299,501h3v1h-3zM300,500h1v3h-1zM309,511h3v1h-3zM310,510h1v3h-1zM319,502h3v1h-3zM320,501h1v3h-1zM329,497h3v1h-3zM330,496h1v3h-1zM339,522h3v1h-3zM340,521h1v3h-1zM349,531h3v1h-3zM350,530h1v3h-1zM359,509h3v1h-3zM360,508h1v3h-1zM369,507h3v1h-3zM370,506h1v3h-1zM379,516h3v1h-3zM380,515h1v3h-1zM389,521h3v1h-3zM390,520h1v3h-1zM399,511h3v1h-3zM400,510h1v3h-1zM409,502h3v1h-3zM410,501h1v3h-1zM419,514h3v1h-3zM420,513h1v3h-1zM429,495h3v1h-3zM430,494h1v3h-1zM439,474h3v1h-3zM440,473h1v3h-1zM449,475h3v1h-3zM450,474h1v3h-1zM459,488h3v1h-3zM460,487h1v3h-1zM469,474h3v1h-3zM470,473h1v3h-1zM479,481h3v1h-3zM480,480h1v3h-1zM489,477h3v1h-3zM490,476h1v3h-1zM499,462h3v1h-3zM500,461h1v3h-1zM509,488h3v1h-3zM510,487h1v3h-1zM519,511h3v1h-3zM520,510h1v3h-1zM529,507h3v1h-3zM530,506h1v3h-1zM539,515h3v1h-3zM540,514h1v3h-1zM549,489h3v1h-3zM550,488h1v3h-1zM559,506h3v1h-3zM560,505h1v3h-1zM569,515h3v1h-3zM570,514h1v3h-1zM579,513h3v1h-3zM580,512h1v3h-1zM589,509h3v1h-3zM590,508h1v3h-1zM599,522h3v1h-3zM600,521h1v3h-1zM609,515h3v1h-3zM610,514h1v3h-1zM619,497h3v1h-3zM620,496h1v3h-1zM629,506h3v1h-3zM630,505h1v3h-1zM639,511h3v1h-3zM640,510h1v3h-1zM649,500h3v1h-3zM650,499h1v3h-1zM659,471h3v1h-3zM660,470h1v3h-1zM669,456h3v1h-3zM670,455h1v3h-1zM679,440h3v1h-3zM680,439h1v3h-1zM689,468h3v1h-3zM690,467h1v3h-1z" fill="#6e7780" shape-rendering="crispEdges"/><path d="M49,495h3v1h-3zM50,494h1v3h-1zM59,497h3v1h-3zM60,496h1v3h-1zM69,523h3v1h-3zM70,522h1v3h-1zM79,533h3v1h-3zM80,532h1v3h-1zM89,516h3v1h-3zM90,515h1v3h-1zM99,507h3v1h-3zM100,506h1v3h-1zM109,505h3v1h-3zM110,504h1v3h-1zM119,480h3v1h-3zM120,479h1v3h-1zM129,473h3v1h-3zM130,472h1v3h-1zM139,500h3v1h-3zM140,499h1v3h-1zM149,502h3v1h-3zM150,501h1v3h-1zM159,508h3v1h-3zM160,507h1v3h-1zM169,512h3v1h-3zM170,511h1v3h-1zM179,520h3v1h-3zM180,519h1v3h-1zM189,519h3v1h-3zM190,518h1v3h-1zM199,522h3v1h-3zM200,521h1v3h-1zM209,492h3v1h-3zM210,491h1v3h-1zM219,511h3v1h-3zM220,510h1v3h-1zM229,510h3v1h-3zM230,509h1v3h-1zM239,495h3v1h-3zM240,494h1v3h-1zM249,477h3v1h-3zM250,476h1v3h-1zM259,484h3v1h-3zM260,483h1v3h-1zM269,468h3v1h-3zM270,467h1v3h-1zM279,472h3v1h-3zM280,471h1v3h-1zM289,463h3v1h-3zM290,462h1v3h-1zM299,471h3v1h-3zM300,470h1v3h-1zM309,488h3v1h-3zM310,487h1v3h-1zM319,501h3v1h-3zM320,500h1v3h-1zM329,485h3v1h-3zM330,484h1v3h-1zM339,501h3v1h-3zM340,500h1v3h-1zM349,512h3v1h-3zM350,511h1v3h-1zM359,514h3v1h-3zM360,513h1v3h-1zM369,497h3v1h-3zM370,496h1v3h-1zM379,510h3v1h-3zM380,509h1v3h-1zM389,521h3v1h-3zM390,520h1v3h-1zM399,514h3v1h-3zM400,513h1v3h-1zM409,481h3v1h-3zM410,480h1v3h-1zM419,461h3v1h-3zM420,460h1v3h-1zM429,491h3v1h-3zM430,490h1v3h-1zM439,507h3v1h-3zM440,506h1v3h-1zM449,493h3v1h-3zM450,492h1v3h-1zM459,506h3v1h-3zM460,505h1v3h-1zM469,515h3v1h-3zM470,514h1v3h-1zM479,517h3v1h-3zM480,516h1v3h-1zM489,490h3v1h-3zM490,489h1v3h-1zM499,468h3v1h-3zM500,467h1v3h-1zM509,499h3v1h-3zM510,498h1v3h-1zM519,503h3v1h-3zM520,502h1v3h-1zM529,488h3v1h-3zM530,487h1v3h-1zM539,496h3v1h-3zM540,495h1v3h-1zM549,514h3v1h-3zM550,513h1v3h-1zM559,495h3v1h-3zM560,494h1v3h-1zM569,488h3v1h-3zM570,487h1v3h-1zM579,467h3v1h-3zM580,466h1v3h-1zM589,447h3v1h-3zM590,446h1v3h-1zM599,471h3v1h-3zM600,470h1v3h-1zM609,462h3v1h-3zM610,461h1v3h-1zM619,440h3v1h-3zM620,439h1v3h-1zM629,465h3v1h-3zM630,464h1v3h-1zM639,487h3v1h-3zM640,486h1v3h-1zM649,484h3v1h-3zM650,483h1v3h-1zM659,507h3v1h-3zM660,506h1v3h-1zM669,521h3v1h-3zM670,520h1v3h-1zM679,466h3v1h-3zM680,465h1v3h-1zM689,412h3v1h-3zM690,411h1v3h-1z" fill="#ee82ee" shape-rendering="crispEdges"/><path d="M49,493h3v1h-3zM50,492h1v3h-1zM59,496h3v1h-3zM60,495h1v3h-1zM69,520h3v1h-3zM70,519h1v3h-1zM79,528h3v1h-3zM80,527h1v3h-1zM89,504h3v1h-3zM90,503h1v3h-1zM99,501h3v1h-3zM100,500h1v3h-1zM109,503h3v1h-3zM110,502h1v3h-1zM119,484h3v1h-3zM120,483h1v3h-1zM129,474h3v1h-3zM130,473h1v3h-1zM139,468h3v1h-3zM140,467h1v3h-1zM149,472h3v1h-3zM150,471h1v3h-1zM159,489h3v1h-3zM160,488h1v3h-1zM169,496h3v1h-3zM170,495h1v3h-1zM179,512h3v1h-3zM180,511h1v3h-1zM189,519h3v1h-3zM190,518h1v3h-1zM199,507h3v1h-3zM200,506h1v3h-1zM209,485h3v1h-3zM210,484h1v3h-1zM219,506h3v1h-3zM220,505h1v3h-1zM229,533h3v1h-3zM230,532h1v3h-1zM239,529h3v1h-3zM240,528h1v3h-1zM249,516h3v1h-3zM250,515h1v3h-1zM259,527h3v1h-3zM260,526h1v3h-1zM269,530h3v1h-3zM270,529h1v3h-1zM279,503h3v1h-3zM280,502h1v3h-1zM289,488h3v1h-3zM290,487h1v3h-1zM299,495h3v1h-3zM300,494h1v3h-1zM309,497h3v1h-3zM310,496h1v3h-1zM319,479h3v1h-3zM320,478h1v3h-1zM329,483h3v1h-3zM330,482h1v3h-1zM339,491h3v1h-3zM340,490h1v3h-1zM349,498h3v1h-3zM350,497h1v3h-1zM359,504h3v1h-3zM360,503h1v3h-1zM369,486h3v1h-3zM370,485h1v3h-1zM379,499h3v1h-3zM380,498h1v3h-1zM389,498h3v1h-3zM390,497h1v3h-1zM399,520h3v1h-3zM400,519h1v3h-1zM409,507h3v1h-3zM410,506h1v3h-1zM419,512h3v1h-3zM420,511h1v3h-1zM429,538h3v1h-3zM430,537h1v3h-1zM439,515h3v1h-3zM440,514h1v3h-1zM449,496h3v1h-3zM450,495h1v3h-1zM459,490h3v1h-3zM460,489h1v3h-1zM469,518h3v1h-3zM470,517h1v3h-1zM479,495h3v1h-3zM480,494h1v3h-1zM489,462h3v1h-3zM490,461h1v3h-1zM499,446h3v1h-3zM500,445h1v3h-1zM509,481h3v1h-3zM510,480h1v3h-1zM519,525h3v1h-3zM520,524h1v3h-1zM529,484h3v1h-3zM530,483h1v3h-1zM539,454h3v1h-3zM540,453h1v3h-1zM549,481h3v1h-3zM550,480h1v3h-1zM559,532h3v1h-3zM560,531h1v3h-1zM569,507h3v1h-3zM570,506h1v3h-1zM579,519h3v1h-3zM580,518h1v3h-1zM589,537h3v1h-3zM590,536h1v3h-1zM599,518h3v1h-3zM600,517h1v3h-1zM609,514h3v1h-3zM610,513h1v3h-1zM619,512h3v1h-3zM620,511h1v3h-1zM629,516h3v1h-3zM630,515h1v3h-1zM639,509h3v1h-3zM640,508h1v3h-1zM649,488h3v1h-3zM650,487h1v3h-1zM659,473h3v1h-3zM660,472h1v3h-1zM669,490h3v1h-3zM670,489h1v3h-1zM679,482h3v1h-3zM680,481h1v3h-1zM689,471h3v1h-3zM690,470h1v3h-1z" fill="#8a2be2" shape-rendering="crispEdges"/><path d="M49,495h3v1h-3zM50,494h1v3h-1zM59,494h3v1h-3zM60,493h1v3h-1zM69,517h3v1h-3zM70,516h1v3h-1zM79,522h3v1h-3zM80,521h1v3h-1zM89,508h3v1h-3zM90,507h1v3h-1zM99,489h3v1h-3zM100,488h1v3h-1zM109,501h3v1h-3zM110,500h1v3h-1zM119,485h3v1h-3zM120,484h1v3h-1zM129,483h3v1h-3zM130,482h1v3h-1zM139,502h3v1h-3zM140,501h1v3h-1zM149,500h3v1h-3zM150,499h1v3h-1zM159,498h3v1h-3zM160,497h1v3h-1zM169,511h3v1h-3zM170,510h1v3h-1zM179,516h3v1h-3zM180,515h1v3h-1zM189,527h3v1h-3zM190,526h1v3h-1zM199,525h3v1h-3zM200,524h1v3h-1zM209,492h3v1h-3zM210,491h1v3h-1zM219,487h3v1h-3zM220,486h1v3h-1zM229,529h3v1h-3zM230,528h1v3h-1zM239,525h3v1h-3zM240,524h1v3h-1zM249,495h3v1h-3zM250,494h1v3h-1zM259,489h3v1h-3zM260,488h1v3h-1zM269,500h3v1h-3zM270,499h1v3h-1zM279,484h3v1h-3zM280,483h1v3h-1zM289,463h3v1h-3zM290,462h1v3h-1zM299,495h3v1h-3zM300,494h1v3h-1zM309,512h3v1h-3zM310,511h1v3h-1zM319,481h3v1h-3zM320,480h1v3h-1zM329,448h3v1h-3zM330,447h1v3h-1zM339,451h3v1h-3zM340,450h1v3h-1zM349,477h3v1h-3zM350,476h1v3h-1zM359,463h3v1h-3zM360,462h1v3h-1zM369,465h3v1h-3zM370,464h1v3h-1zM379,491h3v1h-3zM380,490h1v3h-1zM389,501h3v1h-3zM390,500h1v3h-1zM399,501h3v1h-3zM400,500h1v3h-1zM409,488h3v1h-3zM410,487h1v3h-1zM419,473h3v1h-3zM420,472h1v3h-1zM429,511h3v1h-3zM430,510h1v3h-1zM439,516h3v1h-3zM440,515h1v3h-1zM449,482h3v1h-3zM450,481h1v3h-1zM459,492h3v1h-3zM460,491h1v3h-1zM469,503h3v1h-3zM470,502h1v3h-1zM479,501h3v1h-3zM480,500h1v3h-1zM489,498h3v1h-3zM490,497h1v3h-1zM499,472h3v1h-3zM500,471h1v3h-1zM509,483h3v1h-3zM510,482h1v3h-1zM519,513h3v1h-3zM520,512h1v3h-1zM529,499h3v1h-3zM530,498h1v3h-1zM539,490h3v1h-3zM540,489h1v3h-1zM549,513h3v1h-3zM550,512h1v3h-1zM559,499h3v1h-3zM560,498h1v3h-1zM569,487h3v1h-3zM570,486h1v3h-1zM579,480h3v1h-3zM580,479h1v3h-1zM589,508h3v1h-3zM590,507h1v3h-1zM599,501h3v1h-3zM600,500h1v3h-1zM609,474h3v1h-3zM610,473h1v3h-1zM619,471h3v1h-3zM620,470h1v3h-1zM629,498h3v1h-3zM630,497h1v3h-1zM639,530h3v1h-3zM640,529h1v3h-1zM649,523h3v1h-3zM650,522h1v3h-1zM659,497h3v1h-3zM660,496h1v3h-1zM669,483h3v1h-3zM670,482h1v3h-1zM679,510h3v1h-3zM680,509h1v3h-1zM689,488h3v1h-3zM690,487h1v3h-1z" fill="#7b5a2e" shape-rendering="crispEdges"/><path d="M49,494h3v1h-3zM50,493h1v3h-1zM59,494h3v1h-3zM60,493h1v3h-1zM69,525h3v1h-3zM70,524h1v3h-1zM79,521h3v1h-3zM80,520h1v3h-1zM89,504h3v1h-3zM90,503h1v3h-1zM99,496h3v1h-3zM100,495h1v3h-1zM109,498h3v1h-3zM110,497h1v3h-1zM119,488h3v1h-3zM120,487h1v3h-1zM129,479h3v1h-3zM130,478h1v3h-1zM139,487h3v1h-3zM140,486h1v3h-1zM149,489h3v1h-3zM150,488h1v3h-1zM159,493h3v1h-3zM160,492h1v3h-1zM169,504h3v1h-3zM170,503h1v3h-1zM179,516h3v1h-3zM180,515h1v3h-1zM189,531h3v1h-3zM190,530h1v3h-1zM199,528h3v1h-3zM200,527h1v3h-1zM209,490h3v1h-3zM210,489h1v3h-1zM219,504h3v1h-3zM220,503h1v3h-1zM229,534h3v1h-3zM230,533h1v3h-1zM239,523h3v1h-3zM240,522h1v3h-1zM249,499h3v1h-3zM250,498h1v3h-1zM259,487h3v1h-3zM260,486h1v3h-1zM269,505h3v1h-3zM270,504h1v3h-1zM279,514h3v1h-3zM280,513h1v3h-1zM289,489h3v1h-3zM290,488h1v3h-1zM299,476h3v1h-3zM300,475h1v3h-1zM309,470h3v1h-3zM310,469h1v3h-1zM319,444h3v1h-3zM320,443h1v3h-1zM329,456h3v1h-3zM330,455h1v3h-1zM339,479h3v1h-3zM340,478h1v3h-1zM349,489h3v1h-3zM350,488h1v3h-1zM359,480h3v1h-3zM360,479h1v3h-1zM369,487h3v1h-3zM370,486h1v3h-1zM379,497h3v1h-3zM380,496h1v3h-1zM389,503h3v1h-3zM390,502h1v3h-1zM399,501h3v1h-3zM400,500h1v3h-1zM409,484h3v1h-3zM410,483h1v3h-1zM419,489h3v1h-3zM420,488h1v3h-1zM429,499h3v1h-3zM430,498h1v3h-1zM439,505h3v1h-3zM440,504h1v3h-1zM449,478h3v1h-3zM450,477h1v3h-1zM459,499h3v1h-3zM460,498h1v3h-1zM469,507h3v1h-3zM470,506h1v3h-1zM479,514h3v1h-3zM480,513h1v3h-1zM489,497h3v1h-3zM490,496h1v3h-1zM499,485h3v1h-3zM500,484h1v3h-1zM509,507h3v1h-3zM510,506h1v3h-1zM519,513h3v1h-3zM520,512h1v3h-1zM529,474h3v1h-3zM530,473h1v3h-1zM539,454h3v1h-3zM540,453h1v3h-1zM549,426h3v1h-3zM550,425h1v3h-1zM559,412h3v1h-3zM560,411h1v3h-1zM569,451h3v1h-3zM570,450h1v3h-1zM579,491h3v1h-3zM580,490h1v3h-1zM589,491h3v1h-3zM590,490h1v3h-1zM599,475h3v1h-3zM600,474h1v3h-1zM609,495h3v1h-3zM610,494h1v3h-1zM619,509h3v1h-3zM620,508h1v3h-1zM629,522h3v1h-3zM630,521h1v3h-1zM639,504h3v1h-3zM640,503h1v3h-1zM649,477h3v1h-3zM650,476h1v3h-1zM659,476h3v1h-3zM660,475h1v3h-1zM669,478h3v1h-3zM670,477h1v3h-1zM679,473h3v1h-3zM680,472h1v3h-1zM689,483h3v1h-3zM690,482h1v3h-1z" fill="#2e0a6e" shape-rendering="crispEdges"/><path d="M49,494h3v1h-3zM50,493h1v3h-1zM59,492h3v1h-3zM60,491h1v3h-1zM69,520h3v1h-3zM70,519h1v3h-1zM79,536h3v1h-3zM80,535h1v3h-1zM89,518h3v1h-3zM90,517h1v3h-1zM99,494h3v1h-3zM100,493h1v3h-1zM109,491h3v1h-3zM110,490h1v3h-1zM119,470h3v1h-3zM120,469h1v3h-1zM129,468h3v1h-3zM130,467h1v3h-1zM139,492h3v1h-3zM140,491h1v3h-1zM149,479h3v1h-3zM150,478h1v3h-1zM159,477h3v1h-3zM160,476h1v3h-1zM169,495h3v1h-3zM170,494h1v3h-1zM179,507h3v1h-3zM180,506h1v3h-1zM189,518h3v1h-3zM190,517h1v3h-1zM199,522h3v1h-3zM200,521h1v3h-1zM209,488h3v1h-3zM210,487h1v3h-1zM219,510h3v1h-3zM220,509h1v3h-1zM229,497h3v1h-3zM230,496h1v3h-1zM239,490h3v1h-3zM240,489h1v3h-1zM249,495h3v1h-3zM250,494h1v3h-1zM259,490h3v1h-3zM260,489h1v3h-1zM269,494h3v1h-3zM270,493h1v3h-1zM279,474h3v1h-3zM280,473h1v3h-1zM289,465h3v1h-3zM290,464h1v3h-1zM299,466h3v1h-3zM300,465h1v3h-1zM309,474h3v1h-3zM310,473h1v3h-1zM319,466h3v1h-3zM320,465h1v3h-1zM329,459h3v1h-3zM330,458h1v3h-1zM339,484h3v1h-3zM340,483h1v3h-1zM349,475h3v1h-3zM350,474h1v3h-1zM359,472h3v1h-3zM360,471h1v3h-1zM369,484h3v1h-3zM370,483h1v3h-1zM379,513h3v1h-3zM380,512h1v3h-1zM389,520h3v1h-3zM390,519h1v3h-1zM399,506h3v1h-3zM400,505h1v3h-1zM409,490h3v1h-3zM410,489h1v3h-1zM419,500h3v1h-3zM420,499h1v3h-1zM429,492h3v1h-3zM430,491h1v3h-1zM439,500h3v1h-3zM440,499h1v3h-1zM449,491h3v1h-3zM450,490h1v3h-1zM459,509h3v1h-3zM460,508h1v3h-1zM469,515h3v1h-3zM470,514h1v3h-1zM479,518h3v1h-3zM480,517h1v3h-1zM489,498h3v1h-3zM490,497h1v3h-1zM499,497h3v1h-3zM500,496h1v3h-1zM509,519h3v1h-3zM510,518h1v3h-1zM519,503h3v1h-3zM520,502h1v3h-1zM529,492h3v1h-3zM530,491h1v3h-1zM539,516h3v1h-3zM540,515h1v3h-1zM549,516h3v1h-3zM550,515h1v3h-1zM559,518h3v1h-3zM560,517h1v3h-1zM569,485h3v1h-3zM570,484h1v3h-1zM579,504h3v1h-3zM580,503h1v3h-1zM589,514h3v1h-3zM590,513h1v3h-1zM599,511h3v1h-3zM600,510h1v3h-1zM609,492h3v1h-3zM610,491h1v3h-1zM619,509h3v1h-3zM620,508h1v3h-1zM629,518h3v1h-3zM630,517h1v3h-1zM639,502h3v1h-3zM640,501h1v3h-1zM649,468h3v1h-3zM650,467h1v3h-1zM659,471h3v1h-3zM660,470h1v3h-1zM669,489h3v1h-3zM670,488h1v3h-1zM679,502h3v1h-3zM680,501h1v3h-1zM689,502h3v1h-3zM690,501h1v3h-1z" fill="#f0d000" shape-rendering="crispEdges"/><path d="M49,491h3v1h-3zM50,490h1v3h-1zM59,498h3v1h-3zM60,497h1v3h-1zM69,517h3v1h-3zM70,516h1v3h-1zM79,529h3v1h-3zM80,528h1v3h-1zM89,511h3v1h-3zM90,510h1v3h-1zM99,494h3v1h-3zM100,493h1v3h-1zM109,500h3v1h-3zM110,499h1v3h-1zM119,472h3v1h-3zM120,471h1v3h-1zM129,481h3v1h-3zM130,480h1v3h-1zM139,501h3v1h-3zM140,500h1v3h-1zM149,510h3v1h-3zM150,509h1v3h-1zM159,505h3v1h-3zM160,504h1v3h-1zM169,515h3v1h-3zM170,514h1v3h-1zM179,517h3v1h-3zM180,516h1v3h-1zM189,529h3v1h-3zM190,528h1v3h-1zM199,538h3v1h-3zM200,537h1v3h-1zM209,499h3v1h-3zM210,498h1v3h-1zM219,507h3v1h-3zM220,506h1v3h-1zM229,534h3v1h-3zM230,533h1v3h-1zM239,520h3v1h-3zM240,519h1v3h-1zM249,493h3v1h-3zM250,492h1v3h-1zM259,508h3v1h-3zM260,507h1v3h-1zM269,517h3v1h-3zM270,516h1v3h-1zM279,498h3v1h-3zM280,497h1v3h-1zM289,484h3v1h-3zM290,483h1v3h-1zM299,500h3v1h-3zM300,499h1v3h-1zM309,505h3v1h-3zM310,504h1v3h-1zM319,499h3v1h-3zM320,498h1v3h-1zM329,478h3v1h-3zM330,477h1v3h-1zM339,489h3v1h-3zM340,488h1v3h-1zM349,491h3v1h-3zM350,490h1v3h-1zM359,505h3v1h-3zM360,504h1v3h-1zM369,483h3v1h-3zM370,482h1v3h-1zM379,481h3v1h-3zM380,480h1v3h-1zM389,467h3v1h-3zM390,466h1v3h-1zM399,427h3v1h-3zM400,426h1v3h-1zM409,452h3v1h-3zM410,451h1v3h-1zM419,490h3v1h-3zM420,489h1v3h-1zM429,494h3v1h-3zM430,493h1v3h-1zM439,508h3v1h-3zM440,507h1v3h-1zM449,496h3v1h-3zM450,495h1v3h-1zM459,499h3v1h-3zM460,498h1v3h-1zM469,494h3v1h-3zM470,493h1v3h-1zM479,498h3v1h-3zM480,497h1v3h-1zM489,488h3v1h-3zM490,487h1v3h-1zM499,492h3v1h-3zM500,491h1v3h-1zM509,517h3v1h-3zM510,516h1v3h-1zM519,525h3v1h-3zM520,524h1v3h-1zM529,505h3v1h-3zM530,504h1v3h-1zM539,516h3v1h-3zM540,515h1v3h-1zM549,530h3v1h-3zM550,529h1v3h-1zM559,511h3v1h-3zM560,510h1v3h-1zM569,494h3v1h-3zM570,493h1v3h-1zM579,495h3v1h-3zM580,494h1v3h-1zM589,495h3v1h-3zM590,494h1v3h-1zM599,493h3v1h-3zM600,492h1v3h-1zM609,516h3v1h-3zM610,515h1v3h-1zM619,513h3v1h-3zM620,512h1v3h-1zM629,504h3v1h-3zM630,503h1v3h-1zM639,500h3v1h-3zM640,499h1v3h-1zM649,515h3v1h-3zM650,514h1v3h-1zM659,503h3v1h-3zM660,502h1v3h-1zM669,521h3v1h-3zM670,520h1v3h-1zM679,511h3v1h-3zM680,510h1v3h-1zM689,510h3v1h-3zM690,509h1v3h-1z" fill="#2a6ea8" shape-rendering="crispEdges"/><path d="M49,495h3v1h-3zM50,494h1v3h-1zM59,499h3v1h-3zM60,498h1v3h-1zM69,514h3v1h-3zM70,513h1v3h-1zM79,522h3v1h-3zM80,521h1v3h-1zM89,512h3v1h-3zM90,511h1v3h-1zM99,509h3v1h-3zM100,508h1v3h-1zM109,504h3v1h-3zM110,503h1v3h-1zM119,480h3v1h-3zM120,479h1v3h-1zM129,488h3v1h-3zM130,487h1v3h-1zM139,493h3v1h-3zM140,492h1v3h-1zM149,487h3v1h-3zM150,486h1v3h-1zM159,483h3v1h-3zM160,482h1v3h-1zM169,496h3v1h-3zM170,495h1v3h-1zM179,513h3v1h-3zM180,512h1v3h-1zM189,530h3v1h-3zM190,529h1v3h-1zM199,499h3v1h-3zM200,498h1v3h-1zM209,482h3v1h-3zM210,481h1v3h-1zM219,498h3v1h-3zM220,497h1v3h-1zM229,529h3v1h-3zM230,528h1v3h-1zM239,531h3v1h-3zM240,530h1v3h-1zM249,495h3v1h-3zM250,494h1v3h-1zM259,513h3v1h-3zM260,512h1v3h-1zM269,523h3v1h-3zM270,522h1v3h-1zM279,505h3v1h-3zM280,504h1v3h-1zM289,476h3v1h-3zM290,475h1v3h-1zM299,498h3v1h-3zM300,497h1v3h-1zM309,502h3v1h-3zM310,501h1v3h-1zM319,481h3v1h-3zM320,480h1v3h-1zM329,482h3v1h-3zM330,481h1v3h-1zM339,512h3v1h-3zM340,511h1v3h-1zM349,516h3v1h-3zM350,515h1v3h-1zM359,526h3v1h-3zM360,525h1v3h-1zM369,496h3v1h-3zM370,495h1v3h-1zM379,508h3v1h-3zM380,507h1v3h-1zM389,520h3v1h-3zM390,519h1v3h-1zM399,535h3v1h-3zM400,534h1v3h-1zM409,503h3v1h-3zM410,502h1v3h-1zM419,505h3v1h-3zM420,504h1v3h-1zM429,516h3v1h-3zM430,515h1v3h-1zM439,503h3v1h-3zM440,502h1v3h-1zM449,496h3v1h-3zM450,495h1v3h-1zM459,505h3v1h-3zM460,504h1v3h-1zM469,506h3v1h-3zM470,505h1v3h-1zM479,500h3v1h-3zM480,499h1v3h-1zM489,470h3v1h-3zM490,469h1v3h-1zM499,488h3v1h-3zM500,487h1v3h-1zM509,514h3v1h-3zM510,513h1v3h-1zM519,519h3v1h-3zM520,518h1v3h-1zM529,501h3v1h-3zM530,500h1v3h-1zM539,510h3v1h-3zM540,509h1v3h-1zM549,530h3v1h-3zM550,529h1v3h-1zM559,500h3v1h-3zM560,499h1v3h-1zM569,488h3v1h-3zM570,487h1v3h-1zM579,477h3v1h-3zM580,476h1v3h-1zM589,527h3v1h-3zM590,526h1v3h-1zM599,515h3v1h-3zM600,514h1v3h-1zM609,533h3v1h-3zM610,532h1v3h-1zM619,526h3v1h-3zM620,525h1v3h-1zM629,541h3v1h-3zM630,540h1v3h-1zM639,531h3v1h-3zM640,530h1v3h-1zM649,519h3v1h-3zM650,518h1v3h-1zM659,511h3v1h-3zM660,510h1v3h-1zM669,526h3v1h-3zM670,525h1v3h-1zM679,525h3v1h-3zM680,524h1v3h-1zM689,511h3v1h-3zM690,510h1v3h-1z" fill="#9a5a1e" shape-rendering="crispEdges"/><path d="M49,493h3v1h-3zM50,492h1v3h-1zM59,496h3v1h-3zM60,495h1v3h-1zM69,520h3v1h-3zM70,519h1v3h-1zM79,524h3v1h-3zM80,523h1v3h-1zM89,505h3v1h-3zM90,504h1v3h-1zM99,499h3v1h-3zM100,498h1v3h-1zM109,502h3v1h-3zM110,501h1v3h-1zM119,476h3v1h-3zM120,475h1v3h-1zM129,481h3v1h-3zM130,480h1v3h-1zM139,496h3v1h-3zM140,495h1v3h-1zM149,489h3v1h-3zM150,488h1v3h-1zM159,495h3v1h-3zM160,494h1v3h-1zM169,501h3v1h-3zM170,500h1v3h-1zM179,512h3v1h-3zM180,511h1v3h-1zM189,524h3v1h-3zM190,523h1v3h-1zM199,525h3v1h-3zM200,524h1v3h-1zM209,498h3v1h-3zM210,497h1v3h-1zM219,510h3v1h-3zM220,509h1v3h-1zM229,520h3v1h-3zM230,519h1v3h-1zM239,509h3v1h-3zM240,508h1v3h-1zM249,496h3v1h-3zM250,495h1v3h-1zM259,496h3v1h-3zM260,495h1v3h-1zM269,498h3v1h-3zM270,497h1v3h-1zM279,478h3v1h-3zM280,477h1v3h-1zM289,464h3v1h-3zM290,463h1v3h-1zM299,489h3v1h-3zM300,488h1v3h-1zM309,501h3v1h-3zM310,500h1v3h-1zM319,484h3v1h-3zM320,483h1v3h-1zM329,453h3v1h-3zM330,452h1v3h-1zM339,474h3v1h-3zM340,473h1v3h-1zM349,484h3v1h-3zM350,483h1v3h-1zM359,454h3v1h-3zM360,453h1v3h-1zM369,461h3v1h-3zM370,460h1v3h-1zM379,488h3v1h-3zM380,487h1v3h-1zM389,517h3v1h-3zM390,516h1v3h-1zM399,515h3v1h-3zM400,514h1v3h-1zM409,489h3v1h-3zM410,488h1v3h-1zM419,493h3v1h-3zM420,492h1v3h-1zM429,519h3v1h-3zM430,518h1v3h-1zM439,515h3v1h-3zM440,514h1v3h-1zM449,508h3v1h-3zM450,507h1v3h-1zM459,518h3v1h-3zM460,517h1v3h-1zM469,542h3v1h-3zM470,541h1v3h-1zM479,541h3v1h-3zM480,540h1v3h-1zM489,512h3v1h-3zM490,511h1v3h-1zM499,505h3v1h-3zM500,504h1v3h-1zM509,514h3v1h-3zM510,513h1v3h-1zM519,511h3v1h-3zM520,510h1v3h-1zM529,503h3v1h-3zM530,502h1v3h-1zM539,493h3v1h-3zM540,492h1v3h-1zM549,523h3v1h-3zM550,522h1v3h-1zM559,513h3v1h-3zM560,512h1v3h-1zM569,507h3v1h-3zM570,506h1v3h-1zM579,509h3v1h-3zM580,508h1v3h-1zM589,504h3v1h-3zM590,503h1v3h-1zM599,491h3v1h-3zM600,490h1v3h-1zM609,485h3v1h-3zM610,484h1v3h-1zM619,495h3v1h-3zM620,494h1v3h-1zM629,510h3v1h-3zM630,509h1v3h-1zM639,510h3v1h-3zM640,509h1v3h-1zM649,492h3v1h-3zM650,491h1v3h-1zM659,493h3v1h-3zM660,492h1v3h-1zM669,501h3v1h-3zM670,500h1v3h-1zM679,507h3v1h-3zM680,506h1v3h-1zM689,490h3v1h-3zM690,489h1v3h-1z" fill="#9a8ce8" shape-rendering="crispEdges"/><path d="M49,493h3v1h-3zM50,492h1v3h-1zM59,490h3v1h-3zM60,489h1v3h-1zM69,503h3v1h-3zM70,502h1v3h-1zM79,523h3v1h-3zM80,522h1v3h-1zM89,497h3v1h-3zM90,496h1v3h-1zM99,485h3v1h-3zM100,484h1v3h-1zM109,492h3v1h-3zM110,491h1v3h-1zM119,457h3v1h-3zM120,456h1v3h-1zM129,470h3v1h-3zM130,469h1v3h-1zM139,478h3v1h-3zM140,477h1v3h-1zM149,482h3v1h-3zM150,481h1v3h-1zM159,496h3v1h-3zM160,495h1v3h-1zM169,499h3v1h-3zM170,498h1v3h-1zM179,502h3v1h-3zM180,501h1v3h-1zM189,514h3v1h-3zM190,513h1v3h-1zM199,514h3v1h-3zM200,513h1v3h-1zM209,485h3v1h-3zM210,484h1v3h-1zM219,494h3v1h-3zM220,493h1v3h-1zM229,525h3v1h-3zM230,524h1v3h-1zM239,517h3v1h-3zM240,516h1v3h-1zM249,490h3v1h-3zM250,489h1v3h-1zM259,486h3v1h-3zM260,485h1v3h-1zM269,493h3v1h-3zM270,492h1v3h-1zM279,511h3v1h-3zM280,510h1v3h-1zM289,488h3v1h-3zM290,487h1v3h-1zM299,492h3v1h-3zM300,491h1v3h-1zM309,499h3v1h-3zM310,498h1v3h-1zM319,500h3v1h-3zM320,499h1v3h-1zM329,491h3v1h-3zM330,490h1v3h-1zM339,502h3v1h-3zM340,501h1v3h-1zM349,516h3v1h-3zM350,515h1v3h-1zM359,513h3v1h-3zM360,512h1v3h-1zM369,495h3v1h-3zM370,494h1v3h-1zM379,481h3v1h-3zM380,480h1v3h-1zM389,453h3v1h-3zM390,452h1v3h-1zM399,487h3v1h-3zM400,486h1v3h-1zM409,496h3v1h-3zM410,495h1v3h-1zM419,514h3v1h-3zM420,513h1v3h-1zM429,522h3v1h-3zM430,521h1v3h-1zM439,521h3v1h-3zM440,520h1v3h-1zM449,497h3v1h-3zM450,496h1v3h-1zM459,504h3v1h-3zM460,503h1v3h-1zM469,536h3v1h-3zM470,535h1v3h-1zM479,521h3v1h-3zM480,520h1v3h-1zM489,522h3v1h-3zM490,521h1v3h-1zM499,504h3v1h-3zM500,503h1v3h-1zM509,504h3v1h-3zM510,503h1v3h-1zM519,475h3v1h-3zM520,474h1v3h-1zM529,462h3v1h-3zM530,461h1v3h-1zM539,478h3v1h-3zM540,477h1v3h-1zM549,476h3v1h-3zM550,475h1v3h-1zM559,487h3v1h-3zM560,486h1v3h-1zM569,498h3v1h-3zM570,497h1v3h-1zM579,510h3v1h-3zM580,509h1v3h-1zM589,512h3v1h-3zM590,511h1v3h-1zM599,523h3v1h-3zM600,522h1v3h-1zM609,519h3v1h-3zM610,518h1v3h-1zM619,506h3v1h-3zM620,505h1v3h-1zM629,525h3v1h-3zM630,524h1v3h-1zM639,526h3v1h-3zM640,525h1v3h-1zM649,504h3v1h-3zM650,503h1v3h-1zM659,486h3v1h-3zM660,485h1v3h-1zM669,494h3v1h-3zM670,493h1v3h-1zM679,479h3v1h-3zM680,478h1v3h-1zM689,487h3v1h-3zM690,486h1v3h-1z" fill="#a0f040" shape-rendering="crispEdges"/><path d="M49,494h3v1h-3zM50,493h1v3h-1zM59,502h3v1h-3zM60,501h1v3h-1zM69,539h3v1h-3zM70,538h1v3h-1zM79,533h3v1h-3zM80,532h1v3h-1zM89,512h3v1h-3zM90,511h1v3h-1zM99,504h3v1h-3zM100,503h1v3h-1zM109,509h3v1h-3zM110,508h1v3h-1zM119,472h3v1h-3zM120,471h1v3h-1zM129,475h3v1h-3zM130,474h1v3h-1zM139,485h3v1h-3zM140,484h1v3h-1zM149,479h3v1h-3zM150,478h1v3h-1zM159,483h3v1h-3zM160,482h1v3h-1zM169,504h3v1h-3zM170,503h1v3h-1zM179,511h3v1h-3zM180,510h1v3h-1zM189,529h3v1h-3zM190,528h1v3h-1zM199,531h3v1h-3zM200,530h1v3h-1zM209,500h3v1h-3zM210,499h1v3h-1zM219,511h3v1h-3zM220,510h1v3h-1zM229,529h3v1h-3zM230,528h1v3h-1zM239,512h3v1h-3zM240,511h1v3h-1zM249,498h3v1h-3zM250,497h1v3h-1zM259,514h3v1h-3zM260,513h1v3h-1zM269,528h3v1h-3zM270,527h1v3h-1zM279,531h3v1h-3zM280,530h1v3h-1zM289,492h3v1h-3zM290,491h1v3h-1zM299,507h3v1h-3zM300,506h1v3h-1zM309,518h3v1h-3zM310,517h1v3h-1zM319,502h3v1h-3zM320,501h1v3h-1zM329,485h3v1h-3zM330,484h1v3h-1zM339,482h3v1h-3zM340,481h1v3h-1zM349,487h3v1h-3zM350,486h1v3h-1zM359,496h3v1h-3zM360,495h1v3h-1zM369,493h3v1h-3zM370,492h1v3h-1zM379,512h3v1h-3zM380,511h1v3h-1zM389,514h3v1h-3zM390,513h1v3h-1zM399,522h3v1h-3zM400,521h1v3h-1zM409,500h3v1h-3zM410,499h1v3h-1zM419,492h3v1h-3zM420,491h1v3h-1zM429,509h3v1h-3zM430,508h1v3h-1zM439,514h3v1h-3zM440,513h1v3h-1zM449,507h3v1h-3zM450,506h1v3h-1zM459,504h3v1h-3zM460,503h1v3h-1zM469,526h3v1h-3zM470,525h1v3h-1zM479,532h3v1h-3zM480,531h1v3h-1zM489,511h3v1h-3zM490,510h1v3h-1zM499,511h3v1h-3zM500,510h1v3h-1zM509,533h3v1h-3zM510,532h1v3h-1zM519,529h3v1h-3zM520,528h1v3h-1zM529,510h3v1h-3zM530,509h1v3h-1zM539,518h3v1h-3zM540,517h1v3h-1zM549,525h3v1h-3zM550,524h1v3h-1zM559,514h3v1h-3zM560,513h1v3h-1zM569,513h3v1h-3zM570,512h1v3h-1zM579,523h3v1h-3zM580,522h1v3h-1zM589,529h3v1h-3zM590,528h1v3h-1zM599,524h3v1h-3zM600,523h1v3h-1zM609,503h3v1h-3zM610,502h1v3h-1zM619,481h3v1h-3zM620,480h1v3h-1zM629,488h3v1h-3zM630,487h1v3h-1zM639,490h3v1h-3zM640,489h1v3h-1zM649,465h3v1h-3zM650,464h1v3h-1zM659,468h3v1h-3zM660,467h1v3h-1zM669,471h3v1h-3zM670,470h1v3h-1zM679,513h3v1h-3zM680,512h1v3h-1zM689,486h3v1h-3zM690,485h1v3h-1z" fill="#d070d0" shape-rendering="crispEdges"/><path d="M49,496h3v1h-3zM50,495h1v3h-1zM59,501h3v1h-3zM60,500h1v3h-1zM69,525h3v1h-3zM70,524h1v3h-1zM79,535h3v1h-3zM80,534h1v3h-1zM89,510h3v1h-3zM90,509h1v3h-1zM99,496h3v1h-3zM100,495h1v3h-1zM109,496h3v1h-3zM110,495h1v3h-1zM119,476h3v1h-3zM120,475h1v3h-1zM129,480h3v1h-3zM130,479h1v3h-1zM139,495h3v1h-3zM140,494h1v3h-1zM149,478h3v1h-3zM150,477h1v3h-1zM159,484h3v1h-3zM160,483h1v3h-1zM169,501h3v1h-3zM170,500h1v3h-1zM179,514h3v1h-3zM180,513h1v3h-1zM189,521h3v1h-3zM190,520h1v3h-1zM199,519h3v1h-3zM200,518h1v3h-1zM209,500h3v1h-3zM210,499h1v3h-1zM219,509h3v1h-3zM220,508h1v3h-1zM229,528h3v1h-3zM230,527h1v3h-1zM239,520h3v1h-3zM240,519h1v3h-1zM249,505h3v1h-3zM250,504h1v3h-1zM259,507h3v1h-3zM260,506h1v3h-1zM269,507h3v1h-3zM270,506h1v3h-1zM279,511h3v1h-3zM280,510h1v3h-1zM289,482h3v1h-3zM290,481h1v3h-1zM299,499h3v1h-3zM300,498h1v3h-1zM309,500h3v1h-3zM310,499h1v3h-1zM319,503h3v1h-3zM320,502h1v3h-1zM329,482h3v1h-3zM330,481h1v3h-1zM339,476h3v1h-3zM340,475h1v3h-1zM349,487h3v1h-3zM350,486h1v3h-1zM359,501h3v1h-3zM360,500h1v3h-1zM369,503h3v1h-3zM370,502h1v3h-1zM379,502h3v1h-3zM380,501h1v3h-1zM389,496h3v1h-3zM390,495h1v3h-1zM399,485h3v1h-3zM400,484h1v3h-1zM409,478h3v1h-3zM410,477h1v3h-1zM419,504h3v1h-3zM420,503h1v3h-1zM429,496h3v1h-3zM430,495h1v3h-1zM439,485h3v1h-3zM440,484h1v3h-1zM449,470h3v1h-3zM450,469h1v3h-1zM459,510h3v1h-3zM460,509h1v3h-1zM469,531h3v1h-3zM470,530h1v3h-1zM479,530h3v1h-3zM480,529h1v3h-1zM489,503h3v1h-3zM490,502h1v3h-1zM499,514h3v1h-3zM500,513h1v3h-1zM509,524h3v1h-3zM510,523h1v3h-1zM519,519h3v1h-3zM520,518h1v3h-1zM529,510h3v1h-3zM530,509h1v3h-1zM539,512h3v1h-3zM540,511h1v3h-1zM549,525h3v1h-3zM550,524h1v3h-1zM559,513h3v1h-3zM560,512h1v3h-1zM569,513h3v1h-3zM570,512h1v3h-1zM579,504h3v1h-3zM580,503h1v3h-1zM589,504h3v1h-3zM590,503h1v3h-1zM599,502h3v1h-3zM600,501h1v3h-1zM609,500h3v1h-3zM610,499h1v3h-1zM619,508h3v1h-3zM620,507h1v3h-1zM629,524h3v1h-3zM630,523h1v3h-1zM639,536h3v1h-3zM640,535h1v3h-1zM649,501h3v1h-3zM650,500h1v3h-1zM659,524h3v1h-3zM660,523h1v3h-1zM669,521h3v1h-3zM670,520h1v3h-1zM679,511h3v1h-3zM680,510h1v3h-1zM689,505h3v1h-3zM690,504h1v3h-1z" fill="#1a0aa0" shape-rendering="crispEdges"/><path d="M49,491h3v1h-3zM50,490h1v3h-1zM59,494h3v1h-3zM60,493h1v3h-1zM69,521h3v1h-3zM70,520h1v3h-1zM79,509h3v1h-3zM80,508h1v3h-1zM89,491h3v1h-3zM90,490h1v3h-1zM99,492h3v1h-3zM100,491h1v3h-1zM109,493h3v1h-3zM110,492h1v3h-1zM119,480h3v1h-3zM120,479h1v3h-1zM129,491h3v1h-3zM130,490h1v3h-1zM139,505h3v1h-3zM140,504h1v3h-1zM149,484h3v1h-3zM150,483h1v3h-1zM159,499h3v1h-3zM160,498h1v3h-1zM169,485h3v1h-3zM170,484h1v3h-1zM179,501h3v1h-3zM180,500h1v3h-1zM189,522h3v1h-3zM190,521h1v3h-1zM199,519h3v1h-3zM200,518h1v3h-1zM209,495h3v1h-3zM210,494h1v3h-1zM219,495h3v1h-3zM220,494h1v3h-1zM229,513h3v1h-3zM230,512h1v3h-1zM239,506h3v1h-3zM240,505h1v3h-1zM249,492h3v1h-3zM250,491h1v3h-1zM259,489h3v1h-3zM260,488h1v3h-1zM269,512h3v1h-3zM270,511h1v3h-1zM279,510h3v1h-3zM280,509h1v3h-1zM289,493h3v1h-3zM290,492h1v3h-1zM299,504h3v1h-3zM300,503h1v3h-1zM309,502h3v1h-3zM310,501h1v3h-1zM319,500h3v1h-3zM320,499h1v3h-1zM329,487h3v1h-3zM330,486h1v3h-1zM339,493h3v1h-3zM340,492h1v3h-1zM349,495h3v1h-3zM350,494h1v3h-1zM359,480h3v1h-3zM360,479h1v3h-1zM369,475h3v1h-3zM370,474h1v3h-1zM379,489h3v1h-3zM380,488h1v3h-1zM389,493h3v1h-3zM390,492h1v3h-1zM399,513h3v1h-3zM400,512h1v3h-1zM409,489h3v1h-3zM410,488h1v3h-1zM419,484h3v1h-3zM420,483h1v3h-1zM429,518h3v1h-3zM430,517h1v3h-1zM439,511h3v1h-3zM440,510h1v3h-1zM449,472h3v1h-3zM450,471h1v3h-1zM459,472h3v1h-3zM460,471h1v3h-1zM469,502h3v1h-3zM470,501h1v3h-1zM479,445h3v1h-3zM480,444h1v3h-1zM489,445h3v1h-3zM490,444h1v3h-1zM499,474h3v1h-3zM500,473h1v3h-1zM509,496h3v1h-3zM510,495h1v3h-1zM519,497h3v1h-3zM520,496h1v3h-1zM529,496h3v1h-3zM530,495h1v3h-1zM539,465h3v1h-3zM540,464h1v3h-1zM549,497h3v1h-3zM550,496h1v3h-1zM559,494h3v1h-3zM560,493h1v3h-1zM569,496h3v1h-3zM570,495h1v3h-1zM579,474h3v1h-3zM580,473h1v3h-1zM589,478h3v1h-3zM590,477h1v3h-1zM599,487h3v1h-3zM600,486h1v3h-1zM609,478h3v1h-3zM610,477h1v3h-1zM619,498h3v1h-3zM620,497h1v3h-1zM629,515h3v1h-3zM630,514h1v3h-1zM639,525h3v1h-3zM640,524h1v3h-1zM649,501h3v1h-3zM650,500h1v3h-1zM659,509h3v1h-3zM660,508h1v3h-1zM669,516h3v1h-3zM670,515h1v3h-1zM679,520h3v1h-3zM680,519h1v3h-1zM689,513h3v1h-3zM690,512h1v3h-1z" fill="#e0c8a0" shape-rendering="crispEdges"/><path d="M49,493h3v1h-3zM50,492h1v3h-1zM59,497h3v1h-3zM60,496h1v3h-1zM69,523h3v1h-3zM70,522h1v3h-1zM79,523h3v1h-3zM80,522h1v3h-1zM89,503h3v1h-3zM90,502h1v3h-1zM99,496h3v1h-3zM100,495h1v3h-1zM109,502h3v1h-3zM110,501h1v3h-1zM119,482h3v1h-3zM120,481h1v3h-1zM129,489h3v1h-3zM130,488h1v3h-1zM139,501h3v1h-3zM140,500h1v3h-1zM149,498h3v1h-3zM150,497h1v3h-1zM159,496h3v1h-3zM160,495h1v3h-1zM169,498h3v1h-3zM170,497h1v3h-1zM179,517h3v1h-3zM180,516h1v3h-1zM189,516h3v1h-3zM190,515h1v3h-1zM199,521h3v1h-3zM200,520h1v3h-1zM209,501h3v1h-3zM210,500h1v3h-1zM219,505h3v1h-3zM220,504h1v3h-1zM229,518h3v1h-3zM230,517h1v3h-1zM239,495h3v1h-3zM240,494h1v3h-1zM249,494h3v1h-3zM250,493h1v3h-1zM259,508h3v1h-3zM260,507h1v3h-1zM269,512h3v1h-3zM270,511h1v3h-1zM279,515h3v1h-3zM280,514h1v3h-1zM289,478h3v1h-3zM290,477h1v3h-1zM299,487h3v1h-3zM300,486h1v3h-1zM309,502h3v1h-3zM310,501h1v3h-1zM319,494h3v1h-3zM320,493h1v3h-1zM329,484h3v1h-3zM330,483h1v3h-1zM339,501h3v1h-3zM340,500h1v3h-1zM349,507h3v1h-3zM350,506h1v3h-1zM359,509h3v1h-3zM360,508h1v3h-1zM369,502h3v1h-3zM370,501h1v3h-1zM379,507h3v1h-3zM380,506h1v3h-1zM389,520h3v1h-3zM390,519h1v3h-1zM399,515h3v1h-3zM400,514h1v3h-1zM409,508h3v1h-3zM410,507h1v3h-1zM419,515h3v1h-3zM420,514h1v3h-1zM429,507h3v1h-3zM430,506h1v3h-1zM439,508h3v1h-3zM440,507h1v3h-1zM449,495h3v1h-3zM450,494h1v3h-1zM459,471h3v1h-3zM460,470h1v3h-1zM469,502h3v1h-3zM470,501h1v3h-1zM479,506h3v1h-3zM480,505h1v3h-1zM489,479h3v1h-3zM490,478h1v3h-1zM499,477h3v1h-3zM500,476h1v3h-1zM509,516h3v1h-3zM510,515h1v3h-1zM519,502h3v1h-3zM520,501h1v3h-1zM529,496h3v1h-3zM530,495h1v3h-1zM539,494h3v1h-3zM540,493h1v3h-1zM549,513h3v1h-3zM550,512h1v3h-1zM559,509h3v1h-3zM560,508h1v3h-1zM569,509h3v1h-3zM570,508h1v3h-1zM579,502h3v1h-3zM580,501h1v3h-1zM589,531h3v1h-3zM590,530h1v3h-1zM599,523h3v1h-3zM600,522h1v3h-1zM609,488h3v1h-3zM610,487h1v3h-1zM619,439h3v1h-3zM620,438h1v3h-1zM629,495h3v1h-3zM630,494h1v3h-1zM639,496h3v1h-3zM640,495h1v3h-1zM649,463h3v1h-3zM650,462h1v3h-1zM659,492h3v1h-3zM660,491h1v3h-1zM669,510h3v1h-3zM670,509h1v3h-1zM679,504h3v1h-3zM680,503h1v3h-1zM689,490h3v1h-3zM690,489h1v3h-1z" fill="#8b0000" shape-rendering="crispEdges"/><path d="M49,496h3v1h-3zM50,495h1v3h-1zM59,499h3v1h-3zM60,498h1v3h-1zM69,526h3v1h-3zM70,525h1v3h-1zM79,530h3v1h-3zM80,529h1v3h-1zM89,526h3v1h-3zM90,525h1v3h-1zM99,509h3v1h-3zM100,508h1v3h-1zM109,502h3v1h-3zM110,501h1v3h-1zM119,478h3v1h-3zM120,477h1v3h-1zM129,481h3v1h-3zM130,480h1v3h-1zM139,497h3v1h-3zM140,496h1v3h-1zM149,495h3v1h-3zM150,494h1v3h-1zM159,497h3v1h-3zM160,496h1v3h-1zM169,510h3v1h-3zM170,509h1v3h-1zM179,514h3v1h-3zM180,513h1v3h-1zM189,529h3v1h-3zM190,528h1v3h-1zM199,528h3v1h-3zM200,527h1v3h-1zM209,509h3v1h-3zM210,508h1v3h-1zM219,512h3v1h-3zM220,511h1v3h-1zM229,527h3v1h-3zM230,526h1v3h-1zM239,511h3v1h-3zM240,510h1v3h-1zM249,491h3v1h-3zM250,490h1v3h-1zM259,504h3v1h-3zM260,503h1v3h-1zM269,520h3v1h-3zM270,519h1v3h-1zM279,504h3v1h-3zM280,503h1v3h-1zM289,486h3v1h-3zM290,485h1v3h-1zM299,496h3v1h-3zM300,495h1v3h-1zM309,495h3v1h-3zM310,494h1v3h-1zM319,480h3v1h-3zM320,479h1v3h-1zM329,468h3v1h-3zM330,467h1v3h-1zM339,475h3v1h-3zM340,474h1v3h-1zM349,485h3v1h-3zM350,484h1v3h-1zM359,493h3v1h-3zM360,492h1v3h-1zM369,484h3v1h-3zM370,483h1v3h-1zM379,510h3v1h-3zM380,509h1v3h-1zM389,513h3v1h-3zM390,512h1v3h-1zM399,508h3v1h-3zM400,507h1v3h-1zM409,496h3v1h-3zM410,495h1v3h-1zM419,504h3v1h-3zM420,503h1v3h-1zM429,515h3v1h-3zM430,514h1v3h-1zM439,503h3v1h-3zM440,502h1v3h-1zM449,492h3v1h-3zM450,491h1v3h-1zM459,511h3v1h-3zM460,510h1v3h-1zM469,518h3v1h-3zM470,517h1v3h-1zM479,513h3v1h-3zM480,512h1v3h-1zM489,504h3v1h-3zM490,503h1v3h-1zM499,491h3v1h-3zM500,490h1v3h-1zM509,513h3v1h-3zM510,512h1v3h-1zM519,501h3v1h-3zM520,500h1v3h-1zM529,496h3v1h-3zM530,495h1v3h-1zM539,509h3v1h-3zM540,508h1v3h-1zM549,498h3v1h-3zM550,497h1v3h-1zM559,506h3v1h-3zM560,505h1v3h-1zM569,498h3v1h-3zM570,497h1v3h-1zM579,507h3v1h-3zM580,506h1v3h-1zM589,527h3v1h-3zM590,526h1v3h-1zM599,513h3v1h-3zM600,512h1v3h-1zM609,506h3v1h-3zM610,505h1v3h-1zM619,499h3v1h-3zM620,498h1v3h-1zM629,475h3v1h-3zM630,474h1v3h-1zM639,497h3v1h-3zM640,496h1v3h-1zM649,491h3v1h-3zM650,490h1v3h-1zM659,497h3v1h-3zM660,496h1v3h-1zM669,507h3v1h-3zM670,506h1v3h-1zM679,494h3v1h-3zM680,493h1v3h-1zM689,453h3v1h-3zM690,452h1v3h-1z" fill="#1040c0" shape-rendering="crispEdges"/>
<polyline points="50.5,495.3 60.5,497.1 70.5,523.0 80.5,527.9 90.5,506.9 100.5,496.4 110.5,499.9 120.5,477.1 130.5,479.2 140.5,493.6 150.5,492.9 160.5,497.8 170.5,503.7 180.5,511.4 190.5,525.0 200.5,525.0 210.5,497.1 220.5,506.9 230.5,527.1 240.5,517.0 250.5,499.1 260.5,508.6 270.5,520.1 280.5,513.5 290.5,488.6 300.5,498.1 310.5,503.4 320.5,495.3 330.5,485.1 340.5,499.9 350.5,505.4 360.5,503.7 370.5,496.0 380.5,505.1 390.5,512.1 400.5,510.0 410.5,494.9 420.5,499.1 430.5,512.1 440.5,507.2 450.5,492.1 460.5,499.9 470.5,516.0 480.5,512.1 490.5,496.0 500.5,493.9 510.5,510.0 520.5,508.9 530.5,496.0 540.5,500.9 550.5,507.6 560.5,500.9 570.5,494.6 580.5,497.4 590.5,506.5 600.5,507.6 610.5,503.0 620.5,494.9 630.5,506.5 640.5,510.0 650.5,498.4 660.5,495.6 670.5,501.9 680.5,503.0 690.5,496.4" stroke="#ff0000" stroke-width="3.5" fill="none" stroke-linejoin="round" shape-rendering="crispEdges"/>
<polygon points="48.6,563 67.5,564.3 67.5,566.8 50.5,567" fill="#0000ff"/>
<polygon points="67.5,564 89.4,563.4 126.5,564.4 122.8,566.4 102.8,577.4 91.2,567 89,566 67.5,565.3" fill="#0000ff"/>
<polygon points="129.2,535 147.1,548.5 131.3,565.5 128.2,564.5 128.2,551" fill="#0000ff"/>
<polygon points="168.4,560 193.9,541 190.3,546 184.8,564 184.8,566 170,566.5" fill="#0000ff"/>
<polygon points="205.8,561.5 216.1,558.7 241.1,564.8 216.1,571 207,566" fill="#0000ff"/>
<polygon points="250.5,560.5 267.8,547 276.4,564.8 258,567 250.4,567.2" fill="#0000ff"/>
<polygon points="288.4,565.5 289.4,556.3 293.2,554.5 302.4,549.6 310.9,544 310.3,553 307.8,565" fill="#0000ff"/>
<polygon points="328.5,566.6 329.1,547.2 348.6,546.6 340.7,564.2 334.6,567" fill="#0000ff"/>
<polygon points="367.2,565 368.4,557 369.6,550.2 374.5,549 390.3,545.3 382.4,564.2 372,566" fill="#0000ff"/>
<polygon points="408.5,562 409,558.5 412.2,554.5 424.3,550.2 428.6,564.2 417,569.7 412,567" fill="#0000ff"/>
<polygon points="448.4,564.2 449.6,561 464.2,550.2 472.1,564.2 459.3,571.5 450.8,567.2" fill="#0000ff"/>
<polygon points="488,565 488.5,561 506.8,548.4 511,564.2 497,568.4 491,567.2" fill="#0000ff"/>
<polygon points="525.3,564.2 528.4,562.4 529,555.7 536.3,556.3 552.1,564.2 536.3,569.7 530.8,567.2" fill="#0000ff"/>
<polygon points="563.6,564.2 568.5,563 568.5,555.7 574.6,557 586.1,564.8 578.2,572 572.2,567.2 563.6,567" fill="#0000ff"/>
<polygon points="602.3,564.2 606,562.4 613.2,560 618.7,560.8 632.1,564.4 620,567 610.8,571 602.9,565.4" fill="#0000ff"/>
<polygon points="644,564.4 645,562 651,562 655,558 659,555.3 662,553 668,564.4 664,567.3 658.6,570.7 653,569.6 645.4,567.3" fill="#0000ff"/>
<polygon points="683.2,564.2 688,562.6 689.2,555.3 701.1,555 704.9,564.7 699,567 696.8,569.4 692.4,567.4 683.2,566.4" fill="#0000ff"/>
<path d="M35.5,565.5h30M50.5,550.5v30M39.0,554.0l23,23M39.0,577.0l23,-23M75.5,565.5h30M90.5,550.5v30M79.0,554.0l23,23M79.0,577.0l23,-23M115.5,565.5h30M130.5,550.5v30M119.0,554.0l23,23M119.0,577.0l23,-23M155.5,565.5h30M170.5,550.5v30M159.0,554.0l23,23M159.0,577.0l23,-23M195.5,565.5h30M210.5,550.5v30M199.0,554.0l23,23M199.0,577.0l23,-23M235.5,565.5h30M250.5,550.5v30M239.0,554.0l23,23M239.0,577.0l23,-23M275.5,565.5h30M290.5,550.5v30M279.0,554.0l23,23M279.0,577.0l23,-23M315.5,565.5h30M330.5,550.5v30M319.0,554.0l23,23M319.0,577.0l23,-23M355.5,565.5h30M370.5,550.5v30M359.0,554.0l23,23M359.0,577.0l23,-23M395.5,565.5h30M410.5,550.5v30M399.0,554.0l23,23M399.0,577.0l23,-23M435.5,565.5h30M450.5,550.5v30M439.0,554.0l23,23M439.0,577.0l23,-23M475.5,565.5h30M490.5,550.5v30M479.0,554.0l23,23M479.0,577.0l23,-23M515.5,565.5h30M530.5,550.5v30M519.0,554.0l23,23M519.0,577.0l23,-23M555.5,565.5h30M570.5,550.5v30M559.0,554.0l23,23M559.0,577.0l23,-23M595.5,565.5h30M610.5,550.5v30M599.0,554.0l23,23M599.0,577.0l23,-23M635.5,565.5h30M650.5,550.5v30M639.0,554.0l23,23M639.0,577.0l23,-23M675.5,565.5h30M690.5,550.5v30M679.0,554.0l23,23M679.0,577.0l23,-23" stroke="#000" stroke-width="1" fill="none"/>
<circle cx="50.5" cy="565.5" r="1.8" fill="#000"/>
<circle cx="90.5" cy="565.5" r="1.8" fill="#000"/>
<circle cx="130.5" cy="565.5" r="1.8" fill="#000"/>
<circle cx="170.5" cy="565.5" r="1.8" fill="#000"/>
<circle cx="210.5" cy="565.5" r="1.8" fill="#000"/>
<circle cx="250.5" cy="565.5" r="1.8" fill="#000"/>
<circle cx="290.5" cy="565.5" r="1.8" fill="#000"/>
<circle cx="330.5" cy="565.5" r="1.8" fill="#000"/>
<circle cx="370.5" cy="565.5" r="1.8" fill="#000"/>
<circle cx="410.5" cy="565.5" r="1.8" fill="#000"/>
<circle cx="450.5" cy="565.5" r="1.8" fill="#000"/>
<circle cx="490.5" cy="565.5" r="1.8" fill="#000"/>
<circle cx="530.5" cy="565.5" r="1.8" fill="#000"/>
<circle cx="570.5" cy="565.5" r="1.8" fill="#000"/>
<circle cx="610.5" cy="565.5" r="1.8" fill="#000"/>
<circle cx="650.5" cy="565.5" r="1.8" fill="#000"/>
<circle cx="690.5" cy="565.5" r="1.8" fill="#000"/>
<text x="89" y="549" class="t" textLength="4" lengthAdjust="spacingAndGlyphs">N</text>
<text x="89" y="589" class="t" textLength="4" lengthAdjust="spacingAndGlyphs">S</text>
<text x="73" y="570" class="t" textLength="4.5" lengthAdjust="spacingAndGlyphs">W</text>
<text x="107" y="570" class="t" textLength="4" lengthAdjust="spacingAndGlyphs">E</text>
<path d="M50.5,0V600.5H690.5V0" stroke="#000" stroke-width="1" fill="none" shape-rendering="crispEdges"/>
<text class="s" transform="translate(81,632) rotate(-90)" textLength="30" lengthAdjust="spacingAndGlyphs">22/<tspan class="z">0</tspan>4</text>
<text class="s" transform="translate(121,632) rotate(-90)" textLength="30" lengthAdjust="spacingAndGlyphs">23/<tspan class="z">0</tspan>4</text>
<text class="s" transform="translate(161,632) rotate(-90)" textLength="30" lengthAdjust="spacingAndGlyphs">24/<tspan class="z">0</tspan>4</text>
<text class="s" transform="translate(201,632) rotate(-90)" textLength="30" lengthAdjust="spacingAndGlyphs">25/<tspan class="z">0</tspan>4</text>
<text class="s" transform="translate(241,632) rotate(-90)" textLength="30" lengthAdjust="spacingAndGlyphs">26/<tspan class="z">0</tspan>4</text>
<text class="s" transform="translate(281,632) rotate(-90)" textLength="30" lengthAdjust="spacingAndGlyphs">27/<tspan class="z">0</tspan>4</text>
<text class="s" transform="translate(321,632) rotate(-90)" textLength="30" lengthAdjust="spacingAndGlyphs">28/<tspan class="z">0</tspan>4</text>
<text class="s" transform="translate(361,632) rotate(-90)" textLength="30" lengthAdjust="spacingAndGlyphs">29/<tspan class="z">0</tspan>4</text>
<text class="s" transform="translate(401,632) rotate(-90)" textLength="30" lengthAdjust="spacingAndGlyphs">3<tspan class="z">0</tspan>/<tspan class="z">0</tspan>4</text>
<text class="s" transform="translate(441,632) rotate(-90)" textLength="30" lengthAdjust="spacingAndGlyphs"><tspan class="z">0</tspan>1/<tspan class="z">0</tspan>5</text>
<text class="s" transform="translate(481,632) rotate(-90)" textLength="30" lengthAdjust="spacingAndGlyphs"><tspan class="z">0</tspan>2/<tspan class="z">0</tspan>5</text>
<text class="s" transform="translate(521,632) rotate(-90)" textLength="30" lengthAdjust="spacingAndGlyphs"><tspan class="z">0</tspan>3/<tspan class="z">0</tspan>5</text>
<text class="s" transform="translate(561,632) rotate(-90)" textLength="30" lengthAdjust="spacingAndGlyphs"><tspan class="z">0</tspan>4/<tspan class="z">0</tspan>5</text>
<text class="s" transform="translate(601,632) rotate(-90)" textLength="30" lengthAdjust="spacingAndGlyphs"><tspan class="z">0</tspan>5/<tspan class="z">0</tspan>5</text>
<text class="s" transform="translate(641,632) rotate(-90)" textLength="30" lengthAdjust="spacingAndGlyphs"><tspan class="z">0</tspan>6/<tspan class="z">0</tspan>5</text>
<text class="s" transform="translate(681,632) rotate(-90)" textLength="30" lengthAdjust="spacingAndGlyphs"><tspan class="z">0</tspan>7/<tspan class="z">0</tspan>5</text>
<text x="20" y="611" class="s" textLength="36" lengthAdjust="spacingAndGlyphs">(km/h)</text>
<text x="710" y="611" class="s" textLength="36" lengthAdjust="spacingAndGlyphs">(km/h)</text>
<rect x="35" y="630" width="31" height="4" fill="#ff0000"/>
<text x="75" y="641" class="s" textLength="126" lengthAdjust="spacingAndGlyphs">Moyenne des scénarios</text>
<rect x="225" y="635" width="31" height="4" fill="#0000ff"/>
<rect x="225" y="645" width="31" height="4" fill="#000"/>
<text x="264" y="641" class="s" textLength="90" lengthAdjust="spacingAndGlyphs">Run de contrôle</text>
<text x="264" y="651" class="s" textLength="42" lengthAdjust="spacingAndGlyphs">Run GFS</text>
<text x="340" y="656" class="s" textLength="54" lengthAdjust="spacingAndGlyphs">3<tspan class="z">0</tspan> Perts.</text>
<text x="180" y="664" class="s" textLength="150" lengthAdjust="spacingAndGlyphs">Altitude du modele : 1<tspan class="z">0</tspan>5m</text>
<rect x="400" y="650" width="10" height="6" fill="#e8823a"/>
<text x="400.5" y="647" class="t" textLength="9.0" lengthAdjust="spacingAndGlyphs">01</text>
<rect x="411" y="650" width="10" height="6" fill="#7dc46a"/>
<text x="411.5" y="647" class="t" textLength="9.0" lengthAdjust="spacingAndGlyphs">02</text>
<rect x="422" y="650" width="10" height="6" fill="#f2c200"/>
<text x="422.5" y="647" class="t" textLength="9.0" lengthAdjust="spacingAndGlyphs">03</text>
<rect x="433" y="650" width="10" height="6" fill="#8e4fb5"/>
<text x="433.5" y="647" class="t" textLength="9.0" lengthAdjust="spacingAndGlyphs">04</text>
<rect x="444" y="650" width="10" height="6" fill="#b04a0a"/>
<text x="444.5" y="647" class="t" textLength="9.0" lengthAdjust="spacingAndGlyphs">05</text>
<rect x="455" y="650" width="10" height="6" fill="#4c7f10"/>
<text x="455.5" y="647" class="t" textLength="9.0" lengthAdjust="spacingAndGlyphs">06</text>
<rect x="466" y="650" width="10" height="6" fill="#1e90ff"/>
<text x="466.5" y="647" class="t" textLength="9.0" lengthAdjust="spacingAndGlyphs">07</text>
<rect x="477" y="650" width="10" height="6" fill="#e8d9b0"/>
<text x="477.5" y="647" class="t" textLength="9.0" lengthAdjust="spacingAndGlyphs">08</text>
<rect x="488" y="650" width="10" height="6" fill="#3a8cc0"/>
<text x="488.5" y="647" class="t" textLength="9.0" lengthAdjust="spacingAndGlyphs">09</text>
<rect x="499" y="650" width="10" height="6" fill="#e8a84f"/>
<text x="499.5" y="647" class="t" textLength="9.0" lengthAdjust="spacingAndGlyphs">10</text>
<rect x="510" y="650" width="10" height="6" fill="#5c4a1e"/>
<text x="510.5" y="647" class="t" textLength="9.0" lengthAdjust="spacingAndGlyphs">11</text>
<rect x="521" y="650" width="10" height="6" fill="#f06020"/>
<text x="521.5" y="647" class="t" textLength="9.0" lengthAdjust="spacingAndGlyphs">12</text>
<rect x="532" y="650" width="10" height="6" fill="#d4c37e"/>
<text x="532.5" y="647" class="t" textLength="9.0" lengthAdjust="spacingAndGlyphs">13</text>
<rect x="543" y="650" width="10" height="6" fill="#10d860"/>
<text x="543.5" y="647" class="t" textLength="9.0" lengthAdjust="spacingAndGlyphs">14</text>
<rect x="554" y="650" width="10" height="6" fill="#25435e"/>
<text x="554.5" y="647" class="t" textLength="9.0" lengthAdjust="spacingAndGlyphs">15</text>
<rect x="565" y="650" width="10" height="6" fill="#6e7780"/>
<text x="565.5" y="647" class="t" textLength="9.0" lengthAdjust="spacingAndGlyphs">16</text>
<rect x="576" y="650" width="10" height="6" fill="#ee82ee"/>
<text x="576.5" y="647" class="t" textLength="9.0" lengthAdjust="spacingAndGlyphs">17</text>
<rect x="587" y="650" width="10" height="6" fill="#8a2be2"/>
<text x="587.5" y="647" class="t" textLength="9.0" lengthAdjust="spacingAndGlyphs">18</text>
<rect x="598" y="650" width="10" height="6" fill="#7b5a2e"/>
<text x="598.5" y="647" class="t" textLength="9.0" lengthAdjust="spacingAndGlyphs">19</text>
<rect x="609" y="650" width="10" height="6" fill="#2e0a6e"/>
<text x="609.5" y="647" class="t" textLength="9.0" lengthAdjust="spacingAndGlyphs">20</text>
<rect x="620" y="650" width="10" height="6" fill="#f0d000"/>
<text x="620.5" y="647" class="t" textLength="9.0" lengthAdjust="spacingAndGlyphs">21</text>
<rect x="631" y="650" width="10" height="6" fill="#2a6ea8"/>
<text x="631.5" y="647" class="t" textLength="9.0" lengthAdjust="spacingAndGlyphs">22</text>
<rect x="642" y="650" width="10" height="6" fill="#9a5a1e"/>
<text x="642.5" y="647" class="t" textLength="9.0" lengthAdjust="spacingAndGlyphs">23</text>
<rect x="653" y="650" width="10" height="6" fill="#9a8ce8"/>
<text x="653.5" y="647" class="t" textLength="9.0" lengthAdjust="spacingAndGlyphs">24</text>
<rect x="664" y="650" width="10" height="6" fill="#a0f040"/>
<text x="664.5" y="647" class="t" textLength="9.0" lengthAdjust="spacingAndGlyphs">25</text>
<rect x="675" y="650" width="10" height="6" fill="#d070d0"/>
<text x="675.5" y="647" class="t" textLength="9.0" lengthAdjust="spacingAndGlyphs">26</text>
<rect x="686" y="650" width="10" height="6" fill="#1a0aa0"/>
<text x="686.5" y="647" class="t" textLength="9.0" lengthAdjust="spacingAndGlyphs">27</text>
<rect x="697" y="650" width="10" height="6" fill="#e0c8a0"/>
<text x="697.5" y="647" class="t" textLength="9.0" lengthAdjust="spacingAndGlyphs">28</text>
<rect x="708" y="650" width="10" height="6" fill="#8b0000"/>
<text x="708.5" y="647" class="t" textLength="9.0" lengthAdjust="spacingAndGlyphs">29</text>
<rect x="719" y="650" width="10" height="6" fill="#1040c0"/>
<text x="719.5" y="647" class="t" textLength="9.0" lengthAdjust="spacingAndGlyphs">30</text>
<rect x="20.5" y="667.5" width="420" height="32" fill="none" stroke="#000" stroke-width="1" shape-rendering="crispEdges"/>
<text x="30" y="681" class="b" textLength="336" lengthAdjust="spacingAndGlyphs">Diagramme des ensembles GEFS sur 384h : 39N 0.2W</text>
<text x="30" y="695.5" class="s" textLength="294" lengthAdjust="spacingAndGlyphs">Vitesse (km/h) et direction (°) du vent moyen 1<tspan class="z">0</tspan>m</text>
<text x="450" y="676" class="s" textLength="198" lengthAdjust="spacingAndGlyphs">Ensemble GEFS du 21/<tspan class="z">0</tspan>4/2<tspan class="z">0</tspan>26 - 12Z</text>
<text x="450" y="694" class="b" textLength="189" lengthAdjust="spacingAndGlyphs">Copyright 2026 Meteociel.fr</text>
</svg></body></html>
